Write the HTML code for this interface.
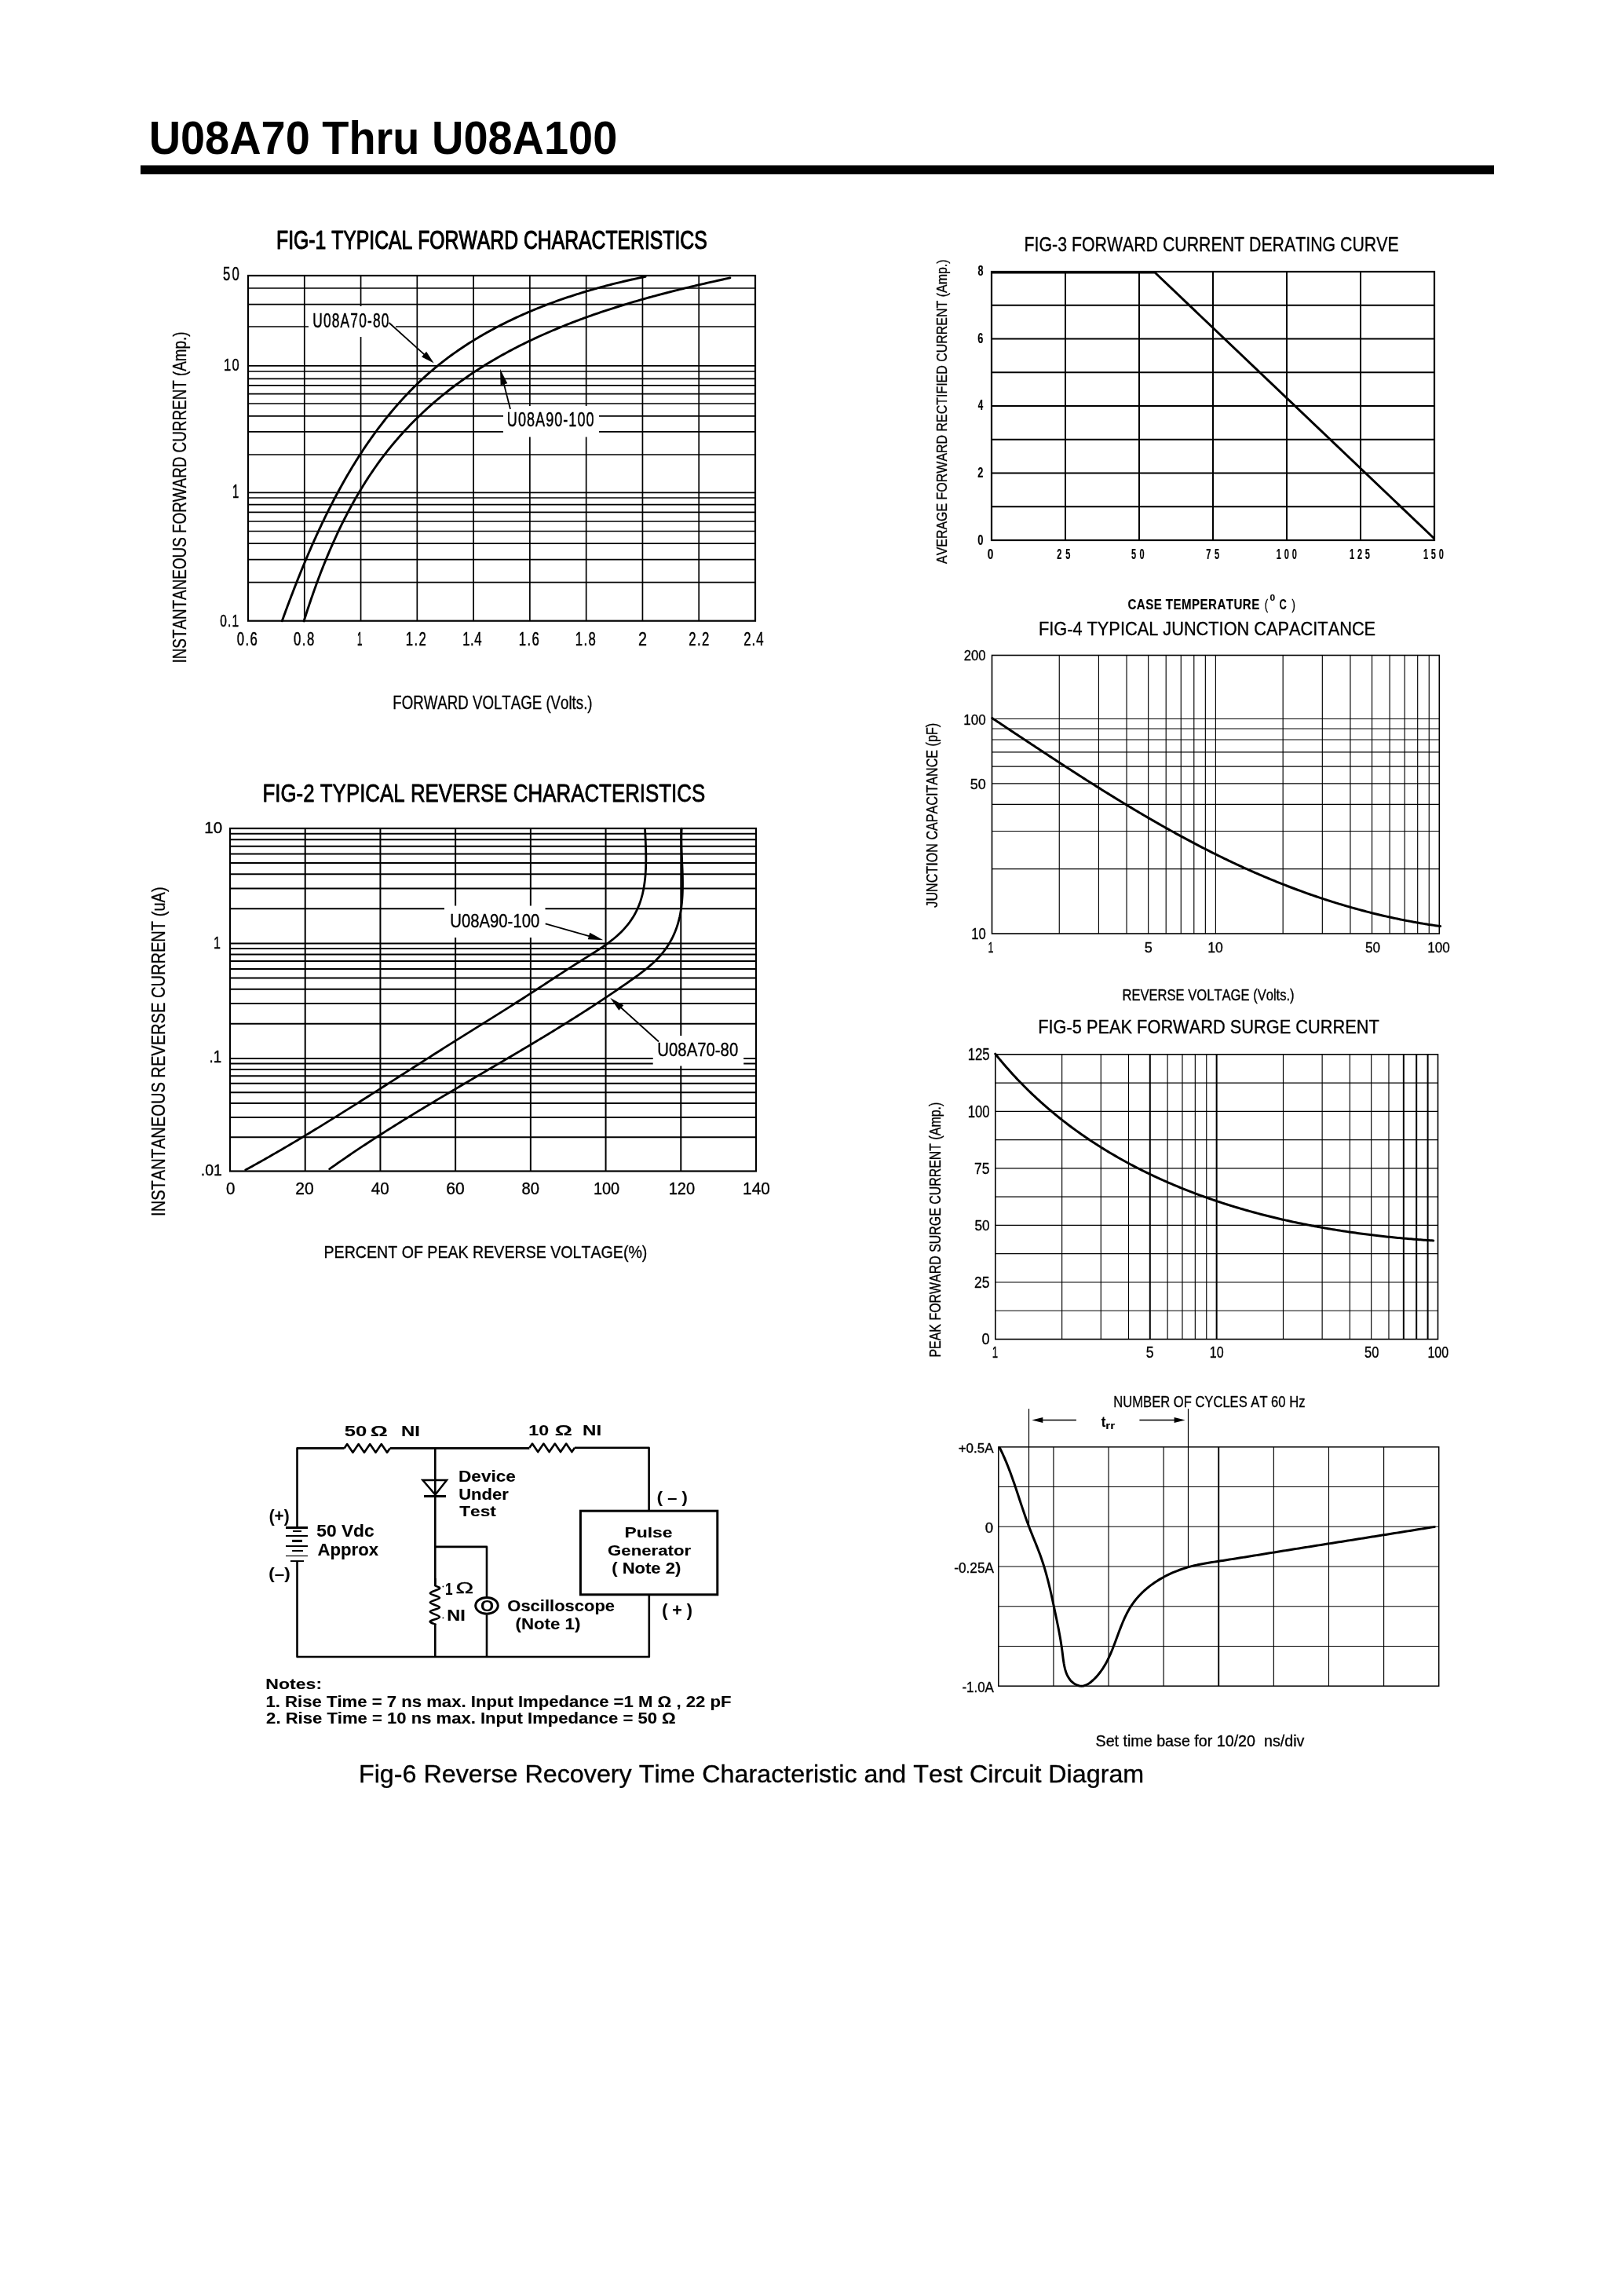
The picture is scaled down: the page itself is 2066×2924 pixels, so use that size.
<!DOCTYPE html>
<html><head><meta charset="utf-8"><title>U08A70 Thru U08A100</title>
<style>
html,body{margin:0;padding:0;background:#fff;}
body{width:2066px;height:2924px;overflow:hidden;}
svg{display:block;filter:grayscale(1);}
svg text{font-family:"Liberation Sans",sans-serif;fill:#000;font-kerning:none;}
</style></head><body>
<svg width="2066" height="2924" viewBox="0 0 2066 2924" stroke="#000" fill="none">
<g stroke="none" fill="#000">
</g>
<text x="189.64" y="196.00" font-size="59.59" font-weight="bold" textLength="596.65" lengthAdjust="spacingAndGlyphs" stroke="none">U08A70 Thru U08A100</text>
<rect x="179.00" y="210.50" width="1724.00" height="11.50" fill="#000" stroke="none"/>
<text x="352.07" y="316.80" font-size="33.29" font-weight="normal" textLength="548.57" lengthAdjust="spacingAndGlyphs" stroke="#000" stroke-width="1.20" stroke-linejoin="round">FIG-1 TYPICAL FORWARD CHARACTERISTICS</text>
<line x1="316.00" y1="367.00" x2="962.00" y2="367.00" stroke-width="1.70"/>
<line x1="316.00" y1="387.60" x2="962.00" y2="387.60" stroke-width="1.70"/>
<line x1="316.00" y1="416.00" x2="962.00" y2="416.00" stroke-width="1.70"/>
<line x1="316.00" y1="465.90" x2="962.00" y2="465.90" stroke-width="1.70"/>
<line x1="316.00" y1="473.00" x2="962.00" y2="473.00" stroke-width="1.70"/>
<line x1="316.00" y1="482.30" x2="962.00" y2="482.30" stroke-width="1.70"/>
<line x1="316.00" y1="490.80" x2="962.00" y2="490.80" stroke-width="1.70"/>
<line x1="316.00" y1="501.60" x2="962.00" y2="501.60" stroke-width="1.70"/>
<line x1="316.00" y1="514.00" x2="962.00" y2="514.00" stroke-width="1.70"/>
<line x1="316.00" y1="529.80" x2="962.00" y2="529.80" stroke-width="1.70"/>
<line x1="316.00" y1="549.80" x2="962.00" y2="549.80" stroke-width="1.70"/>
<line x1="316.00" y1="579.00" x2="962.00" y2="579.00" stroke-width="1.70"/>
<line x1="316.00" y1="627.30" x2="962.00" y2="627.30" stroke-width="1.70"/>
<line x1="316.00" y1="634.00" x2="962.00" y2="634.00" stroke-width="1.70"/>
<line x1="316.00" y1="642.60" x2="962.00" y2="642.60" stroke-width="1.70"/>
<line x1="316.00" y1="652.40" x2="962.00" y2="652.40" stroke-width="1.70"/>
<line x1="316.00" y1="664.00" x2="962.00" y2="664.00" stroke-width="1.70"/>
<line x1="316.00" y1="676.50" x2="962.00" y2="676.50" stroke-width="1.70"/>
<line x1="316.00" y1="692.20" x2="962.00" y2="692.20" stroke-width="1.70"/>
<line x1="316.00" y1="712.60" x2="962.00" y2="712.60" stroke-width="1.70"/>
<line x1="316.00" y1="741.60" x2="962.00" y2="741.60" stroke-width="1.70"/>
<line x1="387.78" y1="351.00" x2="387.78" y2="790.70" stroke-width="1.70"/>
<line x1="459.56" y1="351.00" x2="459.56" y2="790.70" stroke-width="1.70"/>
<line x1="531.33" y1="351.00" x2="531.33" y2="790.70" stroke-width="1.70"/>
<line x1="603.11" y1="351.00" x2="603.11" y2="790.70" stroke-width="1.70"/>
<line x1="674.89" y1="351.00" x2="674.89" y2="790.70" stroke-width="1.70"/>
<line x1="746.67" y1="351.00" x2="746.67" y2="790.70" stroke-width="1.70"/>
<line x1="818.44" y1="351.00" x2="818.44" y2="790.70" stroke-width="1.70"/>
<line x1="890.22" y1="351.00" x2="890.22" y2="790.70" stroke-width="1.70"/>
<rect x="316.00" y="351.00" width="646.00" height="439.70" fill="none" stroke-width="2.2"/>
<rect x="393.00" y="390.00" width="111.00" height="39.00" fill="#fff" stroke="none"/>
<rect x="641.00" y="517.00" width="122.00" height="39.50" fill="#fff" stroke="none"/>
<path d="M359.27 790.81 L360.02 788.74 L360.77 786.66 L361.53 784.59 L362.29 782.51 L363.05 780.43 L363.82 778.36 L364.59 776.27 L365.36 774.19 L366.14 772.11 L366.92 770.02 L367.70 767.94 L368.49 765.85 L369.28 763.76 L370.07 761.67 L370.86 759.58 L371.66 757.49 L372.47 755.40 L373.27 753.31 L374.08 751.22 L374.89 749.12 L375.71 747.03 L376.53 744.93 L377.36 742.84 L378.18 740.74 L379.01 738.65 L379.85 736.55 L380.69 734.45 L381.53 732.36 L382.38 730.26 L383.23 728.17 L384.08 726.07 L384.94 723.98 L385.80 721.88 L386.67 719.78 L387.54 717.69 L388.41 715.60 L389.29 713.50 L390.17 711.41 L391.06 709.32 L391.95 707.23 L392.85 705.14 L393.75 703.05 L394.65 700.96 L395.56 698.87 L396.47 696.78 L397.39 694.70 L398.31 692.61 L399.23 690.53 L400.17 688.45 L401.10 686.37 L402.04 684.29 L402.98 682.21 L403.93 680.14 L404.89 678.06 L405.84 675.99 L406.81 673.92 L407.77 671.85 L408.75 669.78 L409.72 667.72 L410.71 665.66 L411.69 663.60 L412.69 661.54 L413.68 659.48 L414.69 657.43 L415.69 655.38 L416.70 653.33 L417.72 651.28 L418.74 649.24 L419.77 647.20 L420.81 645.16 L421.84 643.13 L422.89 641.09 L423.94 639.06 L424.99 637.04 L426.05 635.02 L427.12 633.00 L428.19 630.98 L429.26 628.96 L430.34 626.95 L431.43 624.95 L432.52 622.94 L433.62 620.95 L434.73 618.95 L435.84 616.96 L436.95 614.97 L438.07 612.98 L439.20 611.00 L440.33 609.03 L441.47 607.05 L442.62 605.08 L443.77 603.12 L444.92 601.16 L446.08 599.20 L447.25 597.25 L448.43 595.30 L449.61 593.36 L450.80 591.42 L451.99 589.49 L453.19 587.56 L454.39 585.64 L455.61 583.72 L456.82 581.80 L458.05 579.89 L459.28 577.99 L460.52 576.09 L461.76 574.19 L463.01 572.31 L464.27 570.42 L465.53 568.54 L466.80 566.67 L468.08 564.80 L469.36 562.94 L470.65 561.09 L471.94 559.23 L473.25 557.39 L474.56 555.55 L475.87 553.72 L477.20 551.89 L478.53 550.07 L479.87 548.26 L481.21 546.45 L482.56 544.64 L483.92 542.85 L485.29 541.06 L486.66 539.27 L488.04 537.50 L489.43 535.73 L490.82 533.96 L492.22 532.21 L493.63 530.46 L495.04 528.71 L496.47 526.98 L497.90 525.25 L499.34 523.53 L500.78 521.81 L502.23 520.10 L503.69 518.40 L505.16 516.71 L506.64 515.02 L508.12 513.34 L509.61 511.67 L511.11 510.01 L512.61 508.35 L514.13 506.70 L515.65 505.06 L517.18 503.43 L518.72 501.80 L520.26 500.19 L521.81 498.58 L523.37 496.98 L524.94 495.39 L526.52 493.80 L528.10 492.23 L529.70 490.66 L531.30 489.10 L532.91 487.55 L534.52 486.01 L536.15 484.47 L537.78 482.95 L539.42 481.43 L541.07 479.92 L542.73 478.43 L544.40 476.94 L546.08 475.46 L547.76 473.99 L549.45 472.52 L551.15 471.07 L552.86 469.63 L554.58 468.19 L556.31 466.77 L558.04 465.35 L559.78 463.95 L561.54 462.55 L563.30 461.17 L565.07 459.79 L566.84 458.42 L568.63 457.06 L570.42 455.71 L572.22 454.38 L574.03 453.04 L575.85 451.72 L577.68 450.41 L579.51 449.11 L581.35 447.82 L583.20 446.53 L585.05 445.26 L586.92 443.99 L588.79 442.73 L590.66 441.48 L592.55 440.24 L594.44 439.01 L596.34 437.79 L598.24 436.58 L600.15 435.38 L602.07 434.18 L604.00 433.00 L605.93 431.82 L607.87 430.65 L609.81 429.49 L611.76 428.34 L613.72 427.20 L615.68 426.06 L617.65 424.94 L619.62 423.82 L621.61 422.71 L623.59 421.61 L625.58 420.52 L627.58 419.44 L629.59 418.36 L631.59 417.30 L633.61 416.24 L635.63 415.19 L637.65 414.15 L639.68 413.12 L641.72 412.09 L643.76 411.08 L645.80 410.07 L647.85 409.07 L649.90 408.08 L651.96 407.09 L654.03 406.12 L656.09 405.15 L658.17 404.19 L660.24 403.24 L662.32 402.29 L664.41 401.36 L666.50 400.43 L668.59 399.51 L670.68 398.60 L672.78 397.69 L674.89 396.79 L677.00 395.90 L679.11 395.02 L681.22 394.15 L683.34 393.28 L685.46 392.42 L687.58 391.57 L689.71 390.73 L691.84 389.89 L693.97 389.07 L696.11 388.24 L698.25 387.43 L700.39 386.62 L702.54 385.83 L704.68 385.03 L706.83 384.25 L708.98 383.47 L711.14 382.70 L713.29 381.94 L715.45 381.18 L717.61 380.44 L719.77 379.70 L721.94 378.96 L724.10 378.23 L726.27 377.51 L728.44 376.80 L730.61 376.10 L732.78 375.40 L734.96 374.70 L737.13 374.02 L739.31 373.34 L741.48 372.67 L743.66 372.00 L745.84 371.35 L748.02 370.70 L750.20 370.05 L752.38 369.41 L754.56 368.78 L756.75 368.16 L758.93 367.54 L761.11 366.93 L763.30 366.32 L765.48 365.72 L767.66 365.13 L769.85 364.55 L772.03 363.97 L774.21 363.39 L776.40 362.83 L778.58 362.27 L780.76 361.71 L782.95 361.17 L785.13 360.62 L787.31 360.09 L789.49 359.56 L791.67 359.04 L793.85 358.52 L796.03 358.01 L798.20 357.51 L800.38 357.01 L802.55 356.51 L804.72 356.03 L806.90 355.55 L809.07 355.07 L811.24 354.60 L813.40 354.14 L815.57 353.68 L817.73 353.23 L819.89 352.78 L822.05 352.34" fill="none" stroke-width="2.90" stroke-linejoin="round" stroke-linecap="round"/>
<path d="M387.08 790.97 L387.82 788.63 L388.57 786.29 L389.32 783.94 L390.08 781.60 L390.84 779.25 L391.61 776.91 L392.38 774.57 L393.16 772.22 L393.94 769.88 L394.73 767.53 L395.53 765.19 L396.33 762.84 L397.14 760.50 L397.96 758.15 L398.78 755.81 L399.61 753.47 L400.44 751.13 L401.28 748.79 L402.13 746.45 L402.98 744.11 L403.84 741.77 L404.70 739.43 L405.57 737.10 L406.45 734.77 L407.34 732.43 L408.23 730.10 L409.13 727.78 L410.04 725.45 L410.95 723.12 L411.87 720.80 L412.80 718.48 L413.73 716.16 L414.68 713.85 L415.62 711.54 L416.58 709.23 L417.54 706.92 L418.52 704.61 L419.49 702.31 L420.48 700.01 L421.47 697.72 L422.48 695.43 L423.49 693.14 L424.50 690.85 L425.53 688.57 L426.56 686.29 L427.60 684.02 L428.65 681.75 L429.71 679.48 L430.77 677.22 L431.85 674.96 L432.93 672.70 L434.02 670.45 L435.12 668.21 L436.22 665.97 L437.34 663.73 L438.46 661.50 L439.59 659.27 L440.74 657.05 L441.89 654.83 L443.04 652.62 L444.21 650.42 L445.39 648.22 L446.57 646.02 L447.77 643.83 L448.97 641.65 L450.19 639.47 L451.41 637.30 L452.64 635.13 L453.88 632.97 L455.13 630.82 L456.39 628.67 L457.66 626.53 L458.94 624.39 L460.23 622.27 L461.52 620.14 L462.83 618.03 L464.15 615.92 L465.48 613.82 L466.81 611.73 L468.16 609.64 L469.52 607.56 L470.89 605.49 L472.26 603.43 L473.65 601.37 L475.05 599.32 L476.46 597.28 L477.88 595.25 L479.31 593.23 L480.75 591.21 L482.20 589.20 L483.66 587.20 L485.13 585.21 L486.61 583.23 L488.10 581.25 L489.61 579.29 L491.12 577.33 L492.65 575.38 L494.19 573.45 L495.73 571.52 L497.29 569.60 L498.86 567.68 L500.44 565.78 L502.03 563.89 L503.63 562.00 L505.24 560.13 L506.86 558.26 L508.49 556.40 L510.13 554.55 L511.78 552.71 L513.44 550.88 L515.11 549.06 L516.79 547.25 L518.48 545.45 L520.18 543.65 L521.89 541.87 L523.61 540.09 L525.34 538.33 L527.07 536.57 L528.82 534.83 L530.58 533.09 L532.34 531.36 L534.12 529.64 L535.90 527.93 L537.69 526.23 L539.49 524.54 L541.30 522.86 L543.12 521.19 L544.95 519.52 L546.79 517.87 L548.63 516.23 L550.48 514.59 L552.35 512.97 L554.22 511.35 L556.10 509.75 L557.98 508.15 L559.88 506.57 L561.78 504.99 L563.69 503.43 L565.61 501.87 L567.54 500.32 L569.47 498.79 L571.41 497.26 L573.36 495.74 L575.32 494.23 L577.29 492.73 L579.26 491.25 L581.24 489.77 L583.23 488.30 L585.22 486.84 L587.22 485.39 L589.23 483.95 L591.25 482.53 L593.27 481.11 L595.30 479.70 L597.34 478.30 L599.38 476.91 L601.43 475.53 L603.49 474.16 L605.55 472.80 L607.62 471.45 L609.70 470.11 L611.78 468.78 L613.87 467.46 L615.97 466.15 L618.07 464.84 L620.18 463.55 L622.29 462.26 L624.41 460.99 L626.54 459.72 L628.67 458.46 L630.81 457.22 L632.95 455.98 L635.10 454.75 L637.26 453.53 L639.42 452.31 L641.58 451.11 L643.75 449.91 L645.93 448.73 L648.11 447.55 L650.30 446.38 L652.49 445.22 L654.69 444.07 L656.90 442.92 L659.10 441.79 L661.32 440.66 L663.54 439.54 L665.76 438.43 L667.99 437.33 L670.22 436.23 L672.45 435.15 L674.70 434.07 L676.94 433.00 L679.19 431.94 L681.45 430.88 L683.71 429.84 L685.97 428.80 L688.24 427.77 L690.51 426.74 L692.79 425.73 L695.07 424.72 L697.35 423.72 L699.64 422.72 L701.93 421.74 L704.22 420.76 L706.52 419.79 L708.82 418.82 L711.13 417.87 L713.44 416.92 L715.75 415.97 L718.07 415.04 L720.39 414.11 L722.71 413.19 L725.04 412.27 L727.37 411.37 L729.70 410.47 L732.03 409.57 L734.37 408.68 L736.71 407.80 L739.05 406.93 L741.40 406.06 L743.75 405.20 L746.10 404.35 L748.46 403.50 L750.81 402.65 L753.17 401.82 L755.53 400.99 L757.90 400.17 L760.26 399.35 L762.63 398.54 L765.00 397.73 L767.37 396.93 L769.75 396.14 L772.12 395.35 L774.50 394.57 L776.88 393.80 L779.26 393.03 L781.64 392.26 L784.03 391.50 L786.41 390.75 L788.80 390.00 L791.19 389.26 L793.58 388.53 L795.97 387.80 L798.36 387.07 L800.75 386.35 L803.15 385.63 L805.54 384.92 L807.94 384.22 L810.34 383.52 L812.74 382.83 L815.14 382.14 L817.54 381.45 L819.94 380.77 L822.34 380.10 L824.74 379.43 L827.14 378.76 L829.54 378.10 L831.94 377.44 L834.35 376.79 L836.75 376.14 L839.15 375.50 L841.55 374.86 L843.96 374.23 L846.36 373.60 L848.76 372.98 L851.16 372.35 L853.57 371.74 L855.97 371.12 L858.37 370.52 L860.77 369.91 L863.17 369.31 L865.57 368.71 L867.97 368.12 L870.37 367.53 L872.77 366.95 L875.16 366.37 L877.56 365.79 L879.95 365.21 L882.35 364.64 L884.74 364.08 L887.13 363.51 L889.52 362.95 L891.91 362.39 L894.30 361.84 L896.68 361.29 L899.07 360.74 L901.45 360.20 L903.83 359.66 L906.21 359.12 L908.59 358.59 L910.97 358.05 L913.34 357.53 L915.71 357.00 L918.08 356.48 L920.45 355.96 L922.82 355.44 L925.18 354.92 L927.54 354.41 L929.90 353.90" fill="none" stroke-width="2.90" stroke-linejoin="round" stroke-linecap="round"/>
<text transform="translate(399.60 416.90) scale(0.6800 1)" x="-1.97" y="0" font-size="25.58" font-weight="normal" letter-spacing="1.694" xml:space="preserve" style="stroke:#000;stroke-width:0.51px;vector-effect:none">U08A70-80</text>
<line x1="495.50" y1="411.00" x2="542.59" y2="453.40" stroke-width="1.80"/><path d="M552.70 462.50 L537.06 454.47 L543.08 447.78 Z" fill="#000" stroke="none"/>
<text transform="translate(647.20 543.30) scale(0.6800 1)" x="-2.05" y="0" font-size="26.60" font-weight="normal" letter-spacing="1.509" xml:space="preserve" style="stroke:#000;stroke-width:0.51px;vector-effect:none">U08A90-100</text>
<line x1="650.00" y1="521.00" x2="640.95" y2="485.50" stroke-width="1.80"/><path d="M637.00 470.00 L646.30 488.27 L637.58 490.49 Z" fill="#000" stroke="none"/>
<text transform="translate(284.70 357.00) scale(0.7200 1)" x="-0.93" y="0" font-size="23.26" font-weight="normal" letter-spacing="2.916" xml:space="preserve" style="stroke:#000;stroke-width:0.49px;vector-effect:none">50</text>
<text transform="translate(286.20 471.80) scale(0.7200 1)" x="-1.75" y="0" font-size="22.97" font-weight="normal" letter-spacing="1.963" xml:space="preserve" style="stroke:#000;stroke-width:0.49px;vector-effect:none">10</text>
<text transform="translate(297.00 634.20) scale(0.6304 1)" x="-1.79" y="0" font-size="23.55" font-weight="normal" letter-spacing="0.000" xml:space="preserve" style="stroke:#000;stroke-width:0.56px;vector-effect:none">1</text>
<text transform="translate(280.80 797.80) scale(0.7200 1)" x="-0.84" y="0" font-size="21.51" font-weight="normal" letter-spacing="1.687" xml:space="preserve" style="stroke:#000;stroke-width:0.49px;vector-effect:none">0.1</text>
<text transform="translate(302.40 821.50) scale(0.7200 1)" x="-0.91" y="0" font-size="23.26" font-weight="normal" letter-spacing="2.023" xml:space="preserve" style="stroke:#000;stroke-width:0.49px;vector-effect:none">0.6</text>
<text transform="translate(374.70 821.50) scale(0.7200 1)" x="-0.91" y="0" font-size="23.26" font-weight="normal" letter-spacing="2.017" xml:space="preserve" style="stroke:#000;stroke-width:0.49px;vector-effect:none">0.8</text>
<text transform="translate(456.00 821.50) scale(0.4987 1)" x="-1.77" y="0" font-size="23.26" font-weight="normal" letter-spacing="0.000" xml:space="preserve" style="stroke:#000;stroke-width:0.70px;vector-effect:none">1</text>
<text transform="translate(518.00 821.50) scale(0.7200 1)" x="-1.77" y="0" font-size="23.26" font-weight="normal" letter-spacing="1.973" xml:space="preserve" style="stroke:#000;stroke-width:0.49px;vector-effect:none">1.2</text>
<text transform="translate(590.50 821.50) scale(0.7200 1)" x="-1.77" y="0" font-size="23.26" font-weight="normal" letter-spacing="0.687" xml:space="preserve" style="stroke:#000;stroke-width:0.49px;vector-effect:none">1.4</text>
<text transform="translate(662.00 821.50) scale(0.7200 1)" x="-1.77" y="0" font-size="23.26" font-weight="normal" letter-spacing="1.899" xml:space="preserve" style="stroke:#000;stroke-width:0.49px;vector-effect:none">1.6</text>
<text transform="translate(734.00 821.50) scale(0.7200 1)" x="-1.77" y="0" font-size="23.26" font-weight="normal" letter-spacing="1.893" xml:space="preserve" style="stroke:#000;stroke-width:0.49px;vector-effect:none">1.8</text>
<text transform="translate(814.00 821.50) scale(0.8495 1)" x="-1.17" y="0" font-size="23.26" font-weight="normal" letter-spacing="0.000" xml:space="preserve" style="stroke:#000;stroke-width:0.41px;vector-effect:none">2</text>
<text transform="translate(878.00 821.50) scale(0.7200 1)" x="-1.17" y="0" font-size="23.26" font-weight="normal" letter-spacing="2.088" xml:space="preserve" style="stroke:#000;stroke-width:0.49px;vector-effect:none">2.2</text>
<text transform="translate(948.00 821.50) scale(0.7200 1)" x="-1.17" y="0" font-size="23.26" font-weight="normal" letter-spacing="1.427" xml:space="preserve" style="stroke:#000;stroke-width:0.49px;vector-effect:none">2.4</text>
<text transform="translate(237.00 842.80) rotate(-90)" x="-1.74" y="0" font-size="24.71" font-weight="normal" textLength="422.11" lengthAdjust="spacingAndGlyphs" stroke="#000" stroke-width="0.35" stroke-linejoin="round">INSTANTANEOUS FORWARD CURRENT (Amp.)</text>
<text x="500.27" y="902.90" font-size="24.13" font-weight="normal" textLength="254.29" lengthAdjust="spacingAndGlyphs" stroke="#000" stroke-width="0.35" stroke-linejoin="round">FORWARD VOLTAGE (Volts.)</text>
<text x="334.48" y="1021.40" font-size="32.27" font-weight="normal" textLength="563.81" lengthAdjust="spacingAndGlyphs" stroke="#000" stroke-width="0.85" stroke-linejoin="round">FIG-2 TYPICAL REVERSE CHARACTERISTICS</text>
<line x1="293.00" y1="1157.33" x2="963.00" y2="1157.33" stroke-width="2.00"/>
<line x1="293.00" y1="1131.55" x2="963.00" y2="1131.55" stroke-width="2.00"/>
<line x1="293.00" y1="1113.26" x2="963.00" y2="1113.26" stroke-width="2.00"/>
<line x1="293.00" y1="1099.07" x2="963.00" y2="1099.07" stroke-width="2.00"/>
<line x1="293.00" y1="1087.48" x2="963.00" y2="1087.48" stroke-width="2.00"/>
<line x1="293.00" y1="1077.68" x2="963.00" y2="1077.68" stroke-width="2.00"/>
<line x1="293.00" y1="1069.19" x2="963.00" y2="1069.19" stroke-width="2.00"/>
<line x1="293.00" y1="1061.70" x2="963.00" y2="1061.70" stroke-width="2.00"/>
<line x1="293.00" y1="1201.40" x2="963.00" y2="1201.40" stroke-width="2.00"/>
<line x1="293.00" y1="1303.87" x2="963.00" y2="1303.87" stroke-width="2.00"/>
<line x1="293.00" y1="1278.05" x2="963.00" y2="1278.05" stroke-width="2.00"/>
<line x1="293.00" y1="1259.74" x2="963.00" y2="1259.74" stroke-width="2.00"/>
<line x1="293.00" y1="1245.53" x2="963.00" y2="1245.53" stroke-width="2.00"/>
<line x1="293.00" y1="1233.92" x2="963.00" y2="1233.92" stroke-width="2.00"/>
<line x1="293.00" y1="1224.11" x2="963.00" y2="1224.11" stroke-width="2.00"/>
<line x1="293.00" y1="1215.61" x2="963.00" y2="1215.61" stroke-width="2.00"/>
<line x1="293.00" y1="1208.11" x2="963.00" y2="1208.11" stroke-width="2.00"/>
<line x1="293.00" y1="1348.00" x2="963.00" y2="1348.00" stroke-width="2.00"/>
<line x1="293.00" y1="1448.30" x2="963.00" y2="1448.30" stroke-width="2.00"/>
<line x1="293.00" y1="1423.03" x2="963.00" y2="1423.03" stroke-width="2.00"/>
<line x1="293.00" y1="1405.10" x2="963.00" y2="1405.10" stroke-width="2.00"/>
<line x1="293.00" y1="1391.20" x2="963.00" y2="1391.20" stroke-width="2.00"/>
<line x1="293.00" y1="1379.84" x2="963.00" y2="1379.84" stroke-width="2.00"/>
<line x1="293.00" y1="1370.23" x2="963.00" y2="1370.23" stroke-width="2.00"/>
<line x1="293.00" y1="1361.91" x2="963.00" y2="1361.91" stroke-width="2.00"/>
<line x1="293.00" y1="1354.57" x2="963.00" y2="1354.57" stroke-width="2.00"/>
<line x1="388.71" y1="1055.00" x2="388.71" y2="1491.50" stroke-width="2.00"/>
<line x1="484.43" y1="1055.00" x2="484.43" y2="1491.50" stroke-width="2.00"/>
<line x1="580.14" y1="1055.00" x2="580.14" y2="1491.50" stroke-width="2.00"/>
<line x1="675.86" y1="1055.00" x2="675.86" y2="1491.50" stroke-width="2.00"/>
<line x1="771.57" y1="1055.00" x2="771.57" y2="1491.50" stroke-width="2.00"/>
<line x1="867.29" y1="1055.00" x2="867.29" y2="1491.50" stroke-width="2.00"/>
<rect x="293.00" y="1055.00" width="670.00" height="436.50" fill="none" stroke-width="2.2"/>
<rect x="566.00" y="1153.50" width="128.50" height="40.50" fill="#fff" stroke="none"/>
<rect x="831.70" y="1319.00" width="115.50" height="38.50" fill="#fff" stroke="none"/>
<path d="M312.70 1489.94 L314.77 1488.81 L316.84 1487.68 L318.91 1486.54 L320.97 1485.40 L323.04 1484.26 L325.10 1483.11 L327.16 1481.97 L329.22 1480.81 L331.28 1479.66 L333.34 1478.50 L335.39 1477.35 L337.44 1476.18 L339.50 1475.02 L341.55 1473.85 L343.60 1472.68 L345.64 1471.51 L347.69 1470.34 L349.74 1469.16 L351.78 1467.98 L353.82 1466.80 L355.87 1465.61 L357.91 1464.43 L359.95 1463.24 L361.98 1462.05 L364.02 1460.85 L366.06 1459.66 L368.09 1458.46 L370.12 1457.26 L372.16 1456.06 L374.19 1454.86 L376.22 1453.65 L378.25 1452.44 L380.28 1451.23 L382.30 1450.02 L384.33 1448.81 L386.35 1447.59 L388.38 1446.37 L390.40 1445.15 L392.42 1443.93 L394.44 1442.71 L396.46 1441.48 L398.48 1440.26 L400.50 1439.03 L402.52 1437.80 L404.53 1436.57 L406.55 1435.33 L408.56 1434.10 L410.57 1432.86 L412.59 1431.62 L414.60 1430.38 L416.61 1429.14 L418.62 1427.90 L420.63 1426.66 L422.64 1425.41 L424.65 1424.17 L426.65 1422.92 L428.66 1421.67 L430.67 1420.42 L432.67 1419.17 L434.68 1417.91 L436.68 1416.66 L438.68 1415.41 L440.69 1414.15 L442.69 1412.89 L444.69 1411.64 L446.69 1410.38 L448.69 1409.12 L450.69 1407.86 L452.69 1406.59 L454.69 1405.33 L456.69 1404.07 L458.69 1402.80 L460.68 1401.54 L462.68 1400.27 L464.68 1399.01 L466.67 1397.74 L468.67 1396.47 L470.67 1395.20 L472.66 1393.93 L474.65 1392.66 L476.65 1391.39 L478.64 1390.12 L480.64 1388.85 L482.63 1387.58 L484.62 1386.31 L486.62 1385.04 L488.61 1383.76 L490.60 1382.49 L492.59 1381.22 L494.59 1379.94 L496.58 1378.67 L498.57 1377.39 L500.56 1376.12 L502.55 1374.85 L504.54 1373.57 L506.53 1372.30 L508.52 1371.02 L510.52 1369.75 L512.51 1368.47 L514.50 1367.20 L516.49 1365.92 L518.48 1364.65 L520.47 1363.37 L522.46 1362.10 L524.45 1360.83 L526.44 1359.55 L528.43 1358.28 L530.42 1357.01 L532.41 1355.73 L534.41 1354.46 L536.40 1353.19 L538.39 1351.92 L540.38 1350.65 L542.37 1349.37 L544.36 1348.10 L546.36 1346.83 L548.35 1345.56 L550.34 1344.30 L552.33 1343.03 L554.33 1341.76 L556.32 1340.49 L558.31 1339.23 L560.31 1337.96 L562.30 1336.70 L564.30 1335.43 L566.29 1334.17 L568.29 1332.91 L570.28 1331.65 L572.28 1330.39 L574.27 1329.13 L576.27 1327.87 L578.27 1326.61 L580.27 1325.36 L582.26 1324.10 L584.26 1322.85 L586.26 1321.59 L588.26 1320.34 L590.26 1319.09 L592.26 1317.84 L594.26 1316.59 L596.26 1315.34 L598.26 1314.09 L600.26 1312.84 L602.26 1311.59 L604.26 1310.34 L606.26 1309.10 L608.26 1307.85 L610.26 1306.60 L612.26 1305.35 L614.26 1304.10 L616.26 1302.86 L618.26 1301.61 L620.26 1300.36 L622.25 1299.11 L624.25 1297.87 L626.25 1296.62 L628.24 1295.37 L630.24 1294.12 L632.24 1292.87 L634.23 1291.62 L636.23 1290.37 L638.22 1289.11 L640.21 1287.86 L642.20 1286.61 L644.19 1285.35 L646.18 1284.10 L648.17 1282.84 L650.16 1281.58 L652.15 1280.33 L654.13 1279.07 L656.12 1277.80 L658.10 1276.54 L660.09 1275.28 L662.07 1274.01 L664.05 1272.75 L666.03 1271.48 L668.00 1270.21 L669.98 1268.94 L671.96 1267.66 L673.93 1266.39 L675.90 1265.11 L677.87 1263.83 L679.84 1262.55 L681.81 1261.27 L683.78 1259.99 L685.74 1258.70 L687.71 1257.41 L689.67 1256.13 L691.64 1254.84 L693.61 1253.55 L695.57 1252.26 L697.54 1250.97 L699.51 1249.68 L701.48 1248.39 L703.45 1247.09 L705.42 1245.80 L707.40 1244.51 L709.37 1243.22 L711.35 1241.93 L713.33 1240.64 L715.31 1239.35 L717.30 1238.06 L719.29 1236.77 L721.28 1235.48 L723.27 1234.19 L725.27 1232.91 L727.27 1231.62 L729.28 1230.34 L731.29 1229.06 L733.31 1227.78 L735.33 1226.50 L737.35 1225.23 L739.38 1223.95 L741.42 1222.68 L743.46 1221.41 L745.50 1220.14 L747.55 1218.87 L749.59 1217.60 L751.63 1216.32 L753.68 1215.04 L755.71 1213.76 L757.74 1212.47 L759.77 1211.17 L761.78 1209.86 L763.78 1208.54 L765.77 1207.21 L767.75 1205.87 L769.71 1204.51 L771.65 1203.14 L773.57 1201.75 L775.48 1200.35 L777.36 1198.92 L779.22 1197.47 L781.05 1196.01 L782.86 1194.52 L784.64 1193.01 L786.38 1191.47 L788.10 1189.90 L789.79 1188.31 L791.43 1186.69 L793.05 1185.04 L794.63 1183.36 L796.16 1181.66 L797.66 1179.92 L799.13 1178.16 L800.54 1176.36 L801.92 1174.54 L803.25 1172.69 L804.54 1170.80 L805.79 1168.89 L806.98 1166.94 L808.13 1164.96 L809.23 1162.96 L810.29 1160.92 L811.29 1158.85 L812.25 1156.76 L813.16 1154.63 L814.02 1152.49 L814.84 1150.31 L815.61 1148.11 L816.33 1145.89 L817.01 1143.64 L817.64 1141.38 L818.23 1139.09 L818.77 1136.78 L819.28 1134.45 L819.74 1132.11 L820.16 1129.75 L820.55 1127.37 L820.90 1124.99 L821.22 1122.59 L821.50 1120.18 L821.76 1117.76 L821.98 1115.34 L822.17 1112.90 L822.33 1110.47 L822.47 1108.03 L822.59 1105.58 L822.67 1103.14 L822.74 1100.69 L822.79 1098.25 L822.81 1095.81 L822.82 1093.37 L822.81 1090.94 L822.79 1088.52 L822.75 1086.10 L822.70 1083.69 L822.63 1081.30 L822.56 1078.91 L822.48 1076.54 L822.39 1074.18 L822.29 1071.84 L822.19 1069.52 L822.09 1067.21 L821.98 1064.93 L821.88 1062.66 L821.77 1060.42 L821.67 1058.20 L821.57 1056.01" fill="none" stroke-width="2.80" stroke-linejoin="round" stroke-linecap="round"/>
<path d="M419.67 1488.78 L421.51 1487.47 L423.35 1486.16 L425.20 1484.86 L427.04 1483.55 L428.89 1482.26 L430.74 1480.96 L432.59 1479.67 L434.44 1478.38 L436.30 1477.10 L438.16 1475.82 L440.01 1474.54 L441.87 1473.27 L443.73 1472.00 L445.59 1470.73 L447.46 1469.46 L449.32 1468.20 L451.19 1466.94 L453.06 1465.68 L454.93 1464.43 L456.80 1463.18 L458.67 1461.93 L460.55 1460.69 L462.42 1459.45 L464.30 1458.21 L466.18 1456.97 L468.06 1455.74 L469.94 1454.51 L471.82 1453.28 L473.70 1452.06 L475.59 1450.83 L477.47 1449.61 L479.36 1448.39 L481.25 1447.18 L483.14 1445.97 L485.03 1444.76 L486.92 1443.55 L488.81 1442.34 L490.71 1441.14 L492.60 1439.94 L494.50 1438.74 L496.40 1437.54 L498.29 1436.35 L500.19 1435.15 L502.09 1433.96 L504.00 1432.77 L505.90 1431.59 L507.80 1430.40 L509.71 1429.22 L511.61 1428.04 L513.52 1426.86 L515.43 1425.68 L517.33 1424.51 L519.24 1423.33 L521.15 1422.16 L523.06 1420.99 L524.97 1419.82 L526.89 1418.65 L528.80 1417.49 L530.71 1416.33 L532.63 1415.16 L534.54 1414.00 L536.46 1412.84 L538.38 1411.68 L540.30 1410.53 L542.21 1409.37 L544.13 1408.22 L546.05 1407.07 L547.97 1405.91 L549.89 1404.76 L551.81 1403.61 L553.74 1402.47 L555.66 1401.32 L557.58 1400.17 L559.51 1399.03 L561.43 1397.88 L563.35 1396.74 L565.28 1395.60 L567.20 1394.46 L569.13 1393.32 L571.06 1392.18 L572.98 1391.04 L574.91 1389.90 L576.84 1388.76 L578.77 1387.62 L580.69 1386.49 L582.62 1385.35 L584.55 1384.22 L586.48 1383.08 L588.41 1381.95 L590.34 1380.81 L592.27 1379.68 L594.20 1378.55 L596.13 1377.42 L598.06 1376.28 L599.99 1375.15 L601.92 1374.02 L603.85 1372.89 L605.79 1371.76 L607.72 1370.63 L609.65 1369.49 L611.58 1368.36 L613.51 1367.23 L615.44 1366.10 L617.37 1364.97 L619.30 1363.84 L621.24 1362.71 L623.17 1361.57 L625.10 1360.44 L627.03 1359.31 L628.96 1358.18 L630.89 1357.05 L632.82 1355.91 L634.75 1354.78 L636.69 1353.65 L638.62 1352.51 L640.55 1351.38 L642.48 1350.24 L644.41 1349.11 L646.34 1347.97 L648.27 1346.83 L650.19 1345.70 L652.12 1344.56 L654.05 1343.42 L655.98 1342.28 L657.91 1341.14 L659.84 1340.00 L661.76 1338.85 L663.69 1337.71 L665.62 1336.57 L667.54 1335.42 L669.47 1334.28 L671.39 1333.13 L673.32 1331.98 L675.24 1330.83 L677.17 1329.68 L679.09 1328.53 L681.01 1327.38 L682.93 1326.22 L684.86 1325.07 L686.78 1323.91 L688.70 1322.75 L690.62 1321.59 L692.54 1320.43 L694.45 1319.27 L696.37 1318.11 L698.29 1316.94 L700.20 1315.77 L702.12 1314.61 L704.03 1313.44 L705.95 1312.26 L707.86 1311.09 L709.77 1309.91 L711.69 1308.74 L713.60 1307.56 L715.51 1306.38 L717.42 1305.19 L719.32 1304.01 L721.23 1302.82 L723.14 1301.64 L725.04 1300.44 L726.95 1299.25 L728.85 1298.06 L730.76 1296.86 L732.66 1295.66 L734.56 1294.46 L736.46 1293.26 L738.36 1292.05 L740.25 1290.84 L742.15 1289.63 L744.05 1288.42 L745.94 1287.20 L747.83 1285.99 L749.72 1284.77 L751.62 1283.54 L753.51 1282.32 L755.39 1281.09 L757.28 1279.86 L759.17 1278.63 L761.05 1277.39 L762.94 1276.15 L764.82 1274.91 L766.70 1273.66 L768.58 1272.42 L770.46 1271.17 L772.33 1269.91 L774.21 1268.66 L776.08 1267.40 L777.96 1266.14 L779.83 1264.87 L781.70 1263.60 L783.57 1262.33 L785.43 1261.06 L787.30 1259.78 L789.16 1258.50 L791.02 1257.22 L792.89 1255.93 L794.74 1254.64 L796.60 1253.34 L798.46 1252.05 L800.31 1250.75 L802.17 1249.44 L804.02 1248.13 L805.87 1246.82 L807.71 1245.50 L809.55 1244.18 L811.38 1242.85 L813.21 1241.51 L815.02 1240.16 L816.82 1238.80 L818.61 1237.43 L820.39 1236.05 L822.15 1234.65 L823.89 1233.24 L825.61 1231.82 L827.32 1230.38 L829.00 1228.92 L830.66 1227.44 L832.29 1225.94 L833.90 1224.42 L835.48 1222.88 L837.04 1221.32 L838.56 1219.74 L840.05 1218.13 L841.51 1216.49 L842.93 1214.83 L844.32 1213.14 L845.67 1211.43 L846.98 1209.68 L848.26 1207.91 L849.49 1206.11 L850.69 1204.29 L851.85 1202.44 L852.98 1200.57 L854.06 1198.67 L855.11 1196.75 L856.12 1194.80 L857.09 1192.84 L858.02 1190.85 L858.91 1188.84 L859.77 1186.81 L860.58 1184.76 L861.36 1182.69 L862.10 1180.60 L862.80 1178.50 L863.46 1176.38 L864.07 1174.24 L864.65 1172.08 L865.19 1169.91 L865.70 1167.73 L866.16 1165.53 L866.59 1163.32 L866.98 1161.09 L867.34 1158.86 L867.67 1156.61 L867.97 1154.35 L868.23 1152.08 L868.47 1149.81 L868.68 1147.52 L868.86 1145.23 L869.02 1142.93 L869.15 1140.62 L869.26 1138.31 L869.35 1135.99 L869.42 1133.67 L869.47 1131.34 L869.50 1129.02 L869.51 1126.69 L869.51 1124.36 L869.49 1122.02 L869.46 1119.69 L869.42 1117.36 L869.37 1115.03 L869.31 1112.70 L869.24 1110.38 L869.16 1108.06 L869.08 1105.74 L868.99 1103.43 L868.90 1101.12 L868.80 1098.82 L868.71 1096.53 L868.61 1094.24 L868.51 1091.97 L868.42 1089.70 L868.33 1087.44 L868.25 1085.19 L868.17 1082.96 L868.10 1080.73 L868.04 1078.52 L867.99 1076.32 L867.94 1074.14 L867.91 1071.97 L867.90 1069.81 L867.89 1067.67 L867.91 1065.55 L867.94 1063.45 L867.99 1061.36 L868.05 1059.30 L868.14 1057.25 L868.25 1055.22" fill="none" stroke-width="2.80" stroke-linejoin="round" stroke-linecap="round"/>
<text x="573.23" y="1180.60" font-size="24.13" font-weight="normal" textLength="114.06" lengthAdjust="spacingAndGlyphs" stroke="#000" stroke-width="0.35" stroke-linejoin="round">U08A90-100</text>
<line x1="694.70" y1="1176.40" x2="753.67" y2="1193.07" stroke-width="1.80"/><path d="M768.30 1197.20 L748.79 1196.36 L751.24 1187.70 Z" fill="#000" stroke="none"/>
<text x="837.33" y="1344.70" font-size="24.27" font-weight="normal" textLength="102.86" lengthAdjust="spacingAndGlyphs" stroke="#000" stroke-width="0.35" stroke-linejoin="round">U08A70-80</text>
<line x1="839.00" y1="1326.50" x2="788.49" y2="1280.98" stroke-width="1.80"/><path d="M777.20 1270.80 L794.33 1280.18 L788.30 1286.86 Z" fill="#000" stroke="none"/>
<text x="260.33" y="1060.90" font-size="20.93" font-weight="normal" textLength="22.87" lengthAdjust="spacingAndGlyphs" stroke="#000" stroke-width="0.35" stroke-linejoin="round">10</text>
<text x="272.08" y="1207.90" font-size="21.37" font-weight="normal" textLength="8.90" lengthAdjust="spacingAndGlyphs" stroke="#000" stroke-width="0.35" stroke-linejoin="round">1</text>
<text x="266.59" y="1353.40" font-size="21.95" font-weight="normal" textLength="15.63" lengthAdjust="spacingAndGlyphs" stroke="#000" stroke-width="0.35" stroke-linejoin="round">.1</text>
<text x="255.82" y="1496.90" font-size="20.49" font-weight="normal" textLength="27.14" lengthAdjust="spacingAndGlyphs" stroke="#000" stroke-width="0.35" stroke-linejoin="round">.01</text>
<text x="288.00" y="1520.70" font-size="22.09" font-weight="normal" textLength="11.40" lengthAdjust="spacingAndGlyphs" stroke="#000" stroke-width="0.35" stroke-linejoin="round">0</text>
<text x="376.24" y="1520.70" font-size="22.09" font-weight="normal" textLength="23.49" lengthAdjust="spacingAndGlyphs" stroke="#000" stroke-width="0.35" stroke-linejoin="round">20</text>
<text x="472.83" y="1520.70" font-size="22.09" font-weight="normal" textLength="22.88" lengthAdjust="spacingAndGlyphs" stroke="#000" stroke-width="0.35" stroke-linejoin="round">40</text>
<text x="568.33" y="1520.70" font-size="22.09" font-weight="normal" textLength="23.50" lengthAdjust="spacingAndGlyphs" stroke="#000" stroke-width="0.35" stroke-linejoin="round">60</text>
<text x="664.52" y="1520.70" font-size="22.09" font-weight="normal" textLength="22.47" lengthAdjust="spacingAndGlyphs" stroke="#000" stroke-width="0.35" stroke-linejoin="round">80</text>
<text x="755.88" y="1520.70" font-size="22.09" font-weight="normal" textLength="33.30" lengthAdjust="spacingAndGlyphs" stroke="#000" stroke-width="0.35" stroke-linejoin="round">100</text>
<text x="851.67" y="1520.70" font-size="22.09" font-weight="normal" textLength="33.41" lengthAdjust="spacingAndGlyphs" stroke="#000" stroke-width="0.35" stroke-linejoin="round">120</text>
<text x="946.12" y="1520.70" font-size="22.09" font-weight="normal" textLength="34.70" lengthAdjust="spacingAndGlyphs" stroke="#000" stroke-width="0.35" stroke-linejoin="round">140</text>
<text transform="translate(210.40 1547.10) rotate(-90)" x="-1.85" y="0" font-size="24.27" font-weight="normal" textLength="419.60" lengthAdjust="spacingAndGlyphs" stroke="#000" stroke-width="0.35" stroke-linejoin="round">INSTANTANEOUS REVERSE CURRENT (uA)</text>
<text x="412.49" y="1602.00" font-size="22.82" font-weight="normal" textLength="411.92" lengthAdjust="spacingAndGlyphs" stroke="#000" stroke-width="0.35" stroke-linejoin="round">PERCENT OF PEAK REVERSE VOLTAGE(%)</text>
<text x="1304.55" y="320.30" font-size="25.58" font-weight="normal" textLength="477.06" lengthAdjust="spacingAndGlyphs" stroke="#000" stroke-width="0.35" stroke-linejoin="round">FIG-3 FORWARD CURRENT DERATING CURVE</text>
<line x1="1357.00" y1="346.00" x2="1357.00" y2="688.00" stroke-width="2.00"/>
<line x1="1451.00" y1="346.00" x2="1451.00" y2="688.00" stroke-width="2.00"/>
<line x1="1545.00" y1="346.00" x2="1545.00" y2="688.00" stroke-width="2.00"/>
<line x1="1639.00" y1="346.00" x2="1639.00" y2="688.00" stroke-width="2.00"/>
<line x1="1733.00" y1="346.00" x2="1733.00" y2="688.00" stroke-width="2.00"/>
<line x1="1263.00" y1="388.75" x2="1827.00" y2="388.75" stroke-width="2.00"/>
<line x1="1263.00" y1="431.50" x2="1827.00" y2="431.50" stroke-width="2.00"/>
<line x1="1263.00" y1="474.25" x2="1827.00" y2="474.25" stroke-width="2.00"/>
<line x1="1263.00" y1="517.00" x2="1827.00" y2="517.00" stroke-width="2.00"/>
<line x1="1263.00" y1="559.75" x2="1827.00" y2="559.75" stroke-width="2.00"/>
<line x1="1263.00" y1="602.50" x2="1827.00" y2="602.50" stroke-width="2.00"/>
<line x1="1263.00" y1="645.25" x2="1827.00" y2="645.25" stroke-width="2.00"/>
<rect x="1263.00" y="346.00" width="564.00" height="342.00" fill="none" stroke-width="2.2"/>
<path d="M1263.00 347.00 L1471.00 347.00 L1827.00 686.00" fill="none" stroke-width="3.00" stroke-linejoin="round"/>
<text transform="translate(1245.80 351.30) scale(0.7201 1)" x="-0.55" y="0" font-size="17.44" font-weight="bold" letter-spacing="0.000" xml:space="preserve" style="stroke:#000;stroke-width:0.17px;vector-effect:none">8</text>
<text transform="translate(1245.80 436.50) scale(0.7353 1)" x="-0.64" y="0" font-size="17.44" font-weight="bold" letter-spacing="0.000" xml:space="preserve" style="stroke:#000;stroke-width:0.16px;vector-effect:none">6</text>
<text transform="translate(1245.80 522.00) scale(0.6636 1)" x="-0.26" y="0" font-size="17.44" font-weight="bold" letter-spacing="0.000" xml:space="preserve" style="stroke:#000;stroke-width:0.18px;vector-effect:none">4</text>
<text transform="translate(1245.80 608.40) scale(0.7383 1)" x="-0.60" y="0" font-size="17.44" font-weight="bold" letter-spacing="0.000" xml:space="preserve" style="stroke:#000;stroke-width:0.16px;vector-effect:none">2</text>
<text transform="translate(1245.80 693.50) scale(0.7474 1)" x="-0.69" y="0" font-size="17.44" font-weight="bold" letter-spacing="0.000" xml:space="preserve" style="stroke:#000;stroke-width:0.16px;vector-effect:none">0</text>
<text transform="translate(1258.30 711.60) scale(0.7707 1)" x="-0.70" y="0" font-size="17.73" font-weight="bold" letter-spacing="0.000" xml:space="preserve" style="stroke:#000;stroke-width:0.16px;vector-effect:none">0</text>
<text transform="translate(1346.70 711.60) scale(0.6200 1)" x="-0.61" y="0" font-size="17.73" font-weight="bold" letter-spacing="7.674" xml:space="preserve" style="stroke:#000;stroke-width:0.19px;vector-effect:none">25</text>
<text transform="translate(1441.40 711.60) scale(0.6200 1)" x="-0.55" y="0" font-size="17.73" font-weight="bold" letter-spacing="7.032" xml:space="preserve" style="stroke:#000;stroke-width:0.19px;vector-effect:none">50</text>
<text transform="translate(1536.60 711.60) scale(0.6200 1)" x="-0.76" y="0" font-size="17.73" font-weight="bold" letter-spacing="7.660" xml:space="preserve" style="stroke:#000;stroke-width:0.19px;vector-effect:none">75</text>
<text transform="translate(1626.50 711.60) scale(0.6200 1)" x="-1.12" y="0" font-size="17.73" font-weight="bold" letter-spacing="6.210" xml:space="preserve" style="stroke:#000;stroke-width:0.19px;vector-effect:none">100</text>
<text transform="translate(1719.70 711.60) scale(0.6200 1)" x="-1.12" y="0" font-size="17.73" font-weight="bold" letter-spacing="6.093" xml:space="preserve" style="stroke:#000;stroke-width:0.19px;vector-effect:none">125</text>
<text transform="translate(1813.60 711.60) scale(0.6200 1)" x="-1.12" y="0" font-size="17.73" font-weight="bold" letter-spacing="6.129" xml:space="preserve" style="stroke:#000;stroke-width:0.19px;vector-effect:none">150</text>
<text transform="translate(1437.10 775.80) scale(0.8000 1)" x="-0.78" y="0" font-size="18.90" font-weight="bold" letter-spacing="0.546" xml:space="preserve" style="stroke:#000;stroke-width:0.15px;vector-effect:none">CASE TEMPERATURE</text>
<text x="1610.68" y="775.80" font-size="18.90" font-weight="normal" textLength="4.40" lengthAdjust="spacingAndGlyphs" stroke="#000" stroke-width="0.35" stroke-linejoin="round">(</text>
<text x="1617.43" y="765.20" font-size="10.76" font-weight="bold" textLength="6.67" lengthAdjust="spacingAndGlyphs" stroke="#000" stroke-width="0.12" stroke-linejoin="round">0</text>
<text x="1629.47" y="775.80" font-size="18.90" font-weight="bold" textLength="9.28" lengthAdjust="spacingAndGlyphs" stroke="#000" stroke-width="0.12" stroke-linejoin="round">C</text>
<text x="1645.42" y="775.80" font-size="18.90" font-weight="normal" textLength="4.40" lengthAdjust="spacingAndGlyphs" stroke="#000" stroke-width="0.35" stroke-linejoin="round">)</text>
<text transform="translate(1205.60 718.00) rotate(-90)" x="-0.03" y="0" font-size="19.04" font-weight="normal" textLength="387.62" lengthAdjust="spacingAndGlyphs" stroke="#000" stroke-width="0.35" stroke-linejoin="round">AVERAGE FORWARD RECTIFIED CURRENT (Amp.)</text>
<text x="1322.91" y="808.70" font-size="24.71" font-weight="normal" textLength="429.22" lengthAdjust="spacingAndGlyphs" stroke="#000" stroke-width="0.35" stroke-linejoin="round">FIG-4 TYPICAL JUNCTION CAPACITANCE</text>
<line x1="1349.26" y1="834.50" x2="1349.26" y2="1189.00" stroke-width="1.15"/>
<line x1="1399.43" y1="834.50" x2="1399.43" y2="1189.00" stroke-width="1.15"/>
<line x1="1435.03" y1="834.50" x2="1435.03" y2="1189.00" stroke-width="1.15"/>
<line x1="1462.64" y1="834.50" x2="1462.64" y2="1189.00" stroke-width="1.15"/>
<line x1="1485.20" y1="834.50" x2="1485.20" y2="1189.00" stroke-width="1.15"/>
<line x1="1504.27" y1="834.50" x2="1504.27" y2="1189.00" stroke-width="1.15"/>
<line x1="1520.79" y1="834.50" x2="1520.79" y2="1189.00" stroke-width="1.15"/>
<line x1="1535.36" y1="834.50" x2="1535.36" y2="1189.00" stroke-width="1.15"/>
<line x1="1548.40" y1="834.50" x2="1548.40" y2="1189.00" stroke-width="1.15"/>
<line x1="1634.16" y1="834.50" x2="1634.16" y2="1189.00" stroke-width="1.15"/>
<line x1="1684.33" y1="834.50" x2="1684.33" y2="1189.00" stroke-width="1.15"/>
<line x1="1719.93" y1="834.50" x2="1719.93" y2="1189.00" stroke-width="1.15"/>
<line x1="1747.54" y1="834.50" x2="1747.54" y2="1189.00" stroke-width="1.15"/>
<line x1="1770.10" y1="834.50" x2="1770.10" y2="1189.00" stroke-width="1.15"/>
<line x1="1789.17" y1="834.50" x2="1789.17" y2="1189.00" stroke-width="1.15"/>
<line x1="1805.69" y1="834.50" x2="1805.69" y2="1189.00" stroke-width="1.15"/>
<line x1="1820.26" y1="834.50" x2="1820.26" y2="1189.00" stroke-width="1.15"/>
<line x1="1263.50" y1="1106.67" x2="1833.30" y2="1106.67" stroke-width="1.15"/>
<line x1="1263.50" y1="1058.51" x2="1833.30" y2="1058.51" stroke-width="1.15"/>
<line x1="1263.50" y1="1024.34" x2="1833.30" y2="1024.34" stroke-width="1.15"/>
<line x1="1263.50" y1="997.83" x2="1833.30" y2="997.83" stroke-width="1.15"/>
<line x1="1263.50" y1="976.18" x2="1833.30" y2="976.18" stroke-width="1.15"/>
<line x1="1263.50" y1="957.87" x2="1833.30" y2="957.87" stroke-width="1.15"/>
<line x1="1263.50" y1="942.00" x2="1833.30" y2="942.00" stroke-width="1.15"/>
<line x1="1263.50" y1="928.01" x2="1833.30" y2="928.01" stroke-width="1.15"/>
<line x1="1263.50" y1="915.50" x2="1833.30" y2="915.50" stroke-width="1.15"/>
<rect x="1263.50" y="834.50" width="569.80" height="354.50" fill="none" stroke-width="1.6"/>
<path d="M1263.69 914.54 L1265.44 915.70 L1267.20 916.87 L1268.96 918.04 L1270.71 919.20 L1272.47 920.37 L1274.23 921.54 L1275.99 922.71 L1277.74 923.87 L1279.50 925.04 L1281.26 926.21 L1283.02 927.38 L1284.78 928.55 L1286.54 929.72 L1288.30 930.89 L1290.06 932.06 L1291.83 933.23 L1293.59 934.40 L1295.35 935.57 L1297.12 936.74 L1298.88 937.91 L1300.64 939.08 L1302.41 940.25 L1304.17 941.42 L1305.94 942.59 L1307.71 943.76 L1309.47 944.93 L1311.24 946.10 L1313.01 947.27 L1314.78 948.44 L1316.55 949.61 L1318.32 950.78 L1320.09 951.95 L1321.86 953.12 L1323.63 954.29 L1325.41 955.46 L1327.18 956.62 L1328.95 957.79 L1330.73 958.96 L1332.50 960.12 L1334.28 961.29 L1336.05 962.46 L1337.83 963.62 L1339.61 964.79 L1341.39 965.95 L1343.17 967.11 L1344.95 968.28 L1346.73 969.44 L1348.51 970.60 L1350.29 971.76 L1352.07 972.92 L1353.86 974.08 L1355.64 975.24 L1357.43 976.40 L1359.21 977.55 L1361.00 978.71 L1362.78 979.86 L1364.57 981.02 L1366.36 982.17 L1368.15 983.33 L1369.94 984.48 L1371.73 985.63 L1373.52 986.78 L1375.32 987.93 L1377.11 989.07 L1378.90 990.22 L1380.70 991.37 L1382.49 992.51 L1384.29 993.65 L1386.09 994.80 L1387.89 995.94 L1389.69 997.08 L1391.49 998.22 L1393.29 999.35 L1395.09 1000.49 L1396.89 1001.63 L1398.70 1002.76 L1400.50 1003.89 L1402.31 1005.02 L1404.11 1006.15 L1405.92 1007.28 L1407.73 1008.41 L1409.54 1009.53 L1411.35 1010.65 L1413.16 1011.78 L1414.97 1012.90 L1416.79 1014.02 L1418.60 1015.13 L1420.42 1016.25 L1422.23 1017.36 L1424.05 1018.47 L1425.87 1019.59 L1427.69 1020.69 L1429.51 1021.80 L1431.33 1022.91 L1433.15 1024.01 L1434.97 1025.11 L1436.80 1026.21 L1438.62 1027.31 L1440.45 1028.41 L1442.28 1029.50 L1444.10 1030.59 L1445.93 1031.68 L1447.77 1032.77 L1449.60 1033.86 L1451.43 1034.94 L1453.26 1036.03 L1455.10 1037.11 L1456.94 1038.18 L1458.77 1039.26 L1460.61 1040.33 L1462.45 1041.41 L1464.29 1042.48 L1466.13 1043.54 L1467.98 1044.61 L1469.82 1045.67 L1471.67 1046.73 L1473.51 1047.79 L1475.36 1048.85 L1477.21 1049.90 L1479.06 1050.95 L1480.91 1052.00 L1482.76 1053.04 L1484.62 1054.09 L1486.47 1055.13 L1488.33 1056.17 L1490.19 1057.20 L1492.05 1058.24 L1493.91 1059.27 L1495.77 1060.30 L1497.63 1061.32 L1499.49 1062.35 L1501.36 1063.37 L1503.23 1064.38 L1505.09 1065.40 L1506.96 1066.41 L1508.83 1067.42 L1510.71 1068.43 L1512.58 1069.43 L1514.45 1070.43 L1516.33 1071.43 L1518.21 1072.43 L1520.08 1073.42 L1521.96 1074.41 L1523.85 1075.39 L1525.73 1076.38 L1527.61 1077.36 L1529.50 1078.33 L1531.38 1079.31 L1533.27 1080.28 L1535.16 1081.25 L1537.05 1082.21 L1538.95 1083.17 L1540.84 1084.13 L1542.73 1085.09 L1544.63 1086.04 L1546.53 1086.99 L1548.43 1087.93 L1550.33 1088.88 L1552.23 1089.81 L1554.14 1090.75 L1556.04 1091.68 L1557.95 1092.61 L1559.86 1093.53 L1561.77 1094.46 L1563.68 1095.37 L1565.59 1096.29 L1567.51 1097.20 L1569.42 1098.11 L1571.34 1099.01 L1573.26 1099.91 L1575.18 1100.81 L1577.10 1101.70 L1579.03 1102.59 L1580.95 1103.48 L1582.88 1104.36 L1584.81 1105.24 L1586.74 1106.11 L1588.67 1106.98 L1590.60 1107.85 L1592.54 1108.71 L1594.48 1109.57 L1596.41 1110.43 L1598.35 1111.28 L1600.30 1112.12 L1602.24 1112.97 L1604.18 1113.81 L1606.13 1114.64 L1608.08 1115.48 L1610.03 1116.30 L1611.98 1117.13 L1613.93 1117.95 L1615.89 1118.76 L1617.84 1119.57 L1619.80 1120.38 L1621.76 1121.18 L1623.72 1121.98 L1625.68 1122.78 L1627.65 1123.57 L1629.61 1124.36 L1631.58 1125.14 L1633.55 1125.92 L1635.52 1126.69 L1637.49 1127.46 L1639.47 1128.23 L1641.44 1128.99 L1643.42 1129.75 L1645.40 1130.50 L1647.38 1131.25 L1649.36 1132.00 L1651.35 1132.74 L1653.33 1133.48 L1655.32 1134.21 L1657.31 1134.94 L1659.30 1135.66 L1661.29 1136.38 L1663.28 1137.09 L1665.28 1137.80 L1667.27 1138.51 L1669.27 1139.21 L1671.27 1139.91 L1673.28 1140.60 L1675.28 1141.29 L1677.28 1141.97 L1679.29 1142.65 L1681.30 1143.32 L1683.31 1143.99 L1685.32 1144.66 L1687.34 1145.32 L1689.35 1145.98 L1691.37 1146.63 L1693.39 1147.28 L1695.41 1147.92 L1697.43 1148.56 L1699.45 1149.19 L1701.48 1149.82 L1703.50 1150.44 L1705.53 1151.06 L1707.56 1151.67 L1709.59 1152.28 L1711.63 1152.89 L1713.66 1153.49 L1715.70 1154.08 L1717.74 1154.67 L1719.78 1155.26 L1721.82 1155.84 L1723.86 1156.42 L1725.91 1156.99 L1727.96 1157.55 L1730.01 1158.11 L1732.06 1158.67 L1734.11 1159.22 L1736.16 1159.77 L1738.22 1160.31 L1740.27 1160.85 L1742.33 1161.38 L1744.39 1161.90 L1746.45 1162.43 L1748.52 1162.94 L1750.58 1163.45 L1752.65 1163.96 L1754.72 1164.46 L1756.79 1164.96 L1758.86 1165.45 L1760.94 1165.94 L1763.01 1166.42 L1765.09 1166.89 L1767.17 1167.36 L1769.25 1167.83 L1771.33 1168.29 L1773.42 1168.74 L1775.50 1169.19 L1777.59 1169.64 L1779.68 1170.08 L1781.77 1170.51 L1783.86 1170.94 L1785.96 1171.36 L1788.05 1171.78 L1790.15 1172.19 L1792.25 1172.60 L1794.35 1173.00 L1796.46 1173.40 L1798.56 1173.79 L1800.67 1174.18 L1802.78 1174.56 L1804.89 1174.93 L1807.00 1175.30 L1809.11 1175.67 L1811.23 1176.02 L1813.34 1176.38 L1815.46 1176.72 L1817.58 1177.07 L1819.70 1177.40 L1821.83 1177.73 L1823.95 1178.06 L1826.08 1178.38 L1828.21 1178.69 L1830.34 1179.00 L1832.47 1179.30 L1834.61 1179.60" fill="none" stroke-width="3.00" stroke-linejoin="round" stroke-linecap="round"/>
<text x="1227.76" y="841.20" font-size="18.75" font-weight="normal" textLength="27.89" lengthAdjust="spacingAndGlyphs" stroke="#000" stroke-width="0.35" stroke-linejoin="round">200</text>
<text x="1227.31" y="922.50" font-size="18.75" font-weight="normal" textLength="28.36" lengthAdjust="spacingAndGlyphs" stroke="#000" stroke-width="0.35" stroke-linejoin="round">100</text>
<text x="1235.68" y="1004.90" font-size="18.75" font-weight="normal" textLength="20.02" lengthAdjust="spacingAndGlyphs" stroke="#000" stroke-width="0.35" stroke-linejoin="round">50</text>
<text x="1237.13" y="1195.60" font-size="19.33" font-weight="normal" textLength="18.52" lengthAdjust="spacingAndGlyphs" stroke="#000" stroke-width="0.35" stroke-linejoin="round">10</text>
<text x="1258.45" y="1213.40" font-size="19.19" font-weight="normal" textLength="6.97" lengthAdjust="spacingAndGlyphs" stroke="#000" stroke-width="0.35" stroke-linejoin="round">1</text>
<text x="1457.67" y="1213.40" font-size="19.19" font-weight="normal" textLength="10.09" lengthAdjust="spacingAndGlyphs" stroke="#000" stroke-width="0.35" stroke-linejoin="round">5</text>
<text x="1538.26" y="1213.40" font-size="19.19" font-weight="normal" textLength="19.52" lengthAdjust="spacingAndGlyphs" stroke="#000" stroke-width="0.35" stroke-linejoin="round">10</text>
<text x="1738.91" y="1213.40" font-size="19.19" font-weight="normal" textLength="19.16" lengthAdjust="spacingAndGlyphs" stroke="#000" stroke-width="0.35" stroke-linejoin="round">50</text>
<text x="1818.30" y="1213.40" font-size="19.19" font-weight="normal" textLength="28.57" lengthAdjust="spacingAndGlyphs" stroke="#000" stroke-width="0.35" stroke-linejoin="round">100</text>
<text x="1429.44" y="1274.10" font-size="19.91" font-weight="normal" textLength="219.19" lengthAdjust="spacingAndGlyphs" stroke="#000" stroke-width="0.35" stroke-linejoin="round">REVERSE VOLTAGE (Volts.)</text>
<text transform="translate(1193.50 1155.40) rotate(-90)" x="-0.25" y="0" font-size="20.64" font-weight="normal" textLength="234.85" lengthAdjust="spacingAndGlyphs" stroke="#000" stroke-width="0.35" stroke-linejoin="round">JUNCTION CAPACITANCE (pF)</text>
<text x="1322.21" y="1316.40" font-size="23.84" font-weight="normal" textLength="434.59" lengthAdjust="spacingAndGlyphs" stroke="#000" stroke-width="0.35" stroke-linejoin="round">FIG-5 PEAK FORWARD SURGE CURRENT</text>
<line x1="1352.65" y1="1342.80" x2="1352.65" y2="1705.50" stroke-width="1.15"/>
<line x1="1402.28" y1="1342.80" x2="1402.28" y2="1705.50" stroke-width="1.15"/>
<line x1="1437.49" y1="1342.80" x2="1437.49" y2="1705.50" stroke-width="1.15"/>
<line x1="1464.80" y1="1342.80" x2="1464.80" y2="1705.50" stroke-width="2.00"/>
<line x1="1487.12" y1="1342.80" x2="1487.12" y2="1705.50" stroke-width="1.15"/>
<line x1="1505.99" y1="1342.80" x2="1505.99" y2="1705.50" stroke-width="1.15"/>
<line x1="1522.34" y1="1342.80" x2="1522.34" y2="1705.50" stroke-width="1.15"/>
<line x1="1536.75" y1="1342.80" x2="1536.75" y2="1705.50" stroke-width="1.15"/>
<line x1="1549.65" y1="1342.80" x2="1549.65" y2="1705.50" stroke-width="2.00"/>
<line x1="1634.50" y1="1342.80" x2="1634.50" y2="1705.50" stroke-width="1.15"/>
<line x1="1684.13" y1="1342.80" x2="1684.13" y2="1705.50" stroke-width="1.15"/>
<line x1="1719.34" y1="1342.80" x2="1719.34" y2="1705.50" stroke-width="1.15"/>
<line x1="1746.65" y1="1342.80" x2="1746.65" y2="1705.50" stroke-width="1.15"/>
<line x1="1768.97" y1="1342.80" x2="1768.97" y2="1705.50" stroke-width="1.15"/>
<line x1="1787.84" y1="1342.80" x2="1787.84" y2="1705.50" stroke-width="2.00"/>
<line x1="1804.19" y1="1342.80" x2="1804.19" y2="1705.50" stroke-width="2.00"/>
<line x1="1818.60" y1="1342.80" x2="1818.60" y2="1705.50" stroke-width="2.00"/>
<line x1="1267.80" y1="1379.07" x2="1831.50" y2="1379.07" stroke-width="1.15"/>
<line x1="1267.80" y1="1415.34" x2="1831.50" y2="1415.34" stroke-width="1.15"/>
<line x1="1267.80" y1="1451.61" x2="1831.50" y2="1451.61" stroke-width="1.15"/>
<line x1="1267.80" y1="1487.88" x2="1831.50" y2="1487.88" stroke-width="1.15"/>
<line x1="1267.80" y1="1524.15" x2="1831.50" y2="1524.15" stroke-width="1.15"/>
<line x1="1267.80" y1="1560.42" x2="1831.50" y2="1560.42" stroke-width="1.15"/>
<line x1="1267.80" y1="1596.69" x2="1831.50" y2="1596.69" stroke-width="1.15"/>
<line x1="1267.80" y1="1632.96" x2="1831.50" y2="1632.96" stroke-width="1.15"/>
<line x1="1267.80" y1="1669.23" x2="1831.50" y2="1669.23" stroke-width="1.15"/>
<rect x="1267.80" y="1342.80" width="563.70" height="362.70" fill="none" stroke-width="1.6"/>
<path d="M1267.73 1342.16 L1269.08 1343.85 L1270.44 1345.52 L1271.80 1347.19 L1273.17 1348.85 L1274.55 1350.50 L1275.93 1352.15 L1277.31 1353.78 L1278.71 1355.41 L1280.10 1357.04 L1281.51 1358.65 L1282.91 1360.26 L1284.33 1361.86 L1285.75 1363.45 L1287.17 1365.04 L1288.60 1366.62 L1290.04 1368.19 L1291.48 1369.76 L1292.93 1371.31 L1294.38 1372.86 L1295.83 1374.41 L1297.30 1375.94 L1298.76 1377.47 L1300.24 1378.99 L1301.71 1380.51 L1303.20 1382.02 L1304.68 1383.52 L1306.18 1385.01 L1307.68 1386.50 L1309.18 1387.98 L1310.69 1389.45 L1312.20 1390.91 L1313.72 1392.37 L1315.24 1393.82 L1316.77 1395.27 L1318.30 1396.71 L1319.84 1398.14 L1321.38 1399.56 L1322.93 1400.98 L1324.49 1402.39 L1326.04 1403.79 L1327.61 1405.19 L1329.17 1406.58 L1330.74 1407.96 L1332.32 1409.34 L1333.90 1410.70 L1335.49 1412.07 L1337.08 1413.42 L1338.68 1414.77 L1340.28 1416.11 L1341.88 1417.45 L1343.49 1418.78 L1345.10 1420.10 L1346.72 1421.41 L1348.34 1422.72 L1349.97 1424.02 L1351.60 1425.32 L1353.24 1426.61 L1354.88 1427.89 L1356.53 1429.17 L1358.18 1430.43 L1359.83 1431.70 L1361.49 1432.95 L1363.15 1434.20 L1364.82 1435.45 L1366.49 1436.68 L1368.16 1437.91 L1369.84 1439.14 L1371.53 1440.35 L1373.21 1441.56 L1374.91 1442.77 L1376.60 1443.96 L1378.30 1445.16 L1380.01 1446.34 L1381.71 1447.52 L1383.43 1448.69 L1385.14 1449.86 L1386.86 1451.02 L1388.59 1452.17 L1390.32 1453.32 L1392.05 1454.46 L1393.78 1455.59 L1395.53 1456.72 L1397.27 1457.84 L1399.02 1458.96 L1400.77 1460.07 L1402.52 1461.17 L1404.28 1462.27 L1406.05 1463.36 L1407.81 1464.45 L1409.58 1465.53 L1411.36 1466.60 L1413.13 1467.67 L1414.91 1468.73 L1416.70 1469.78 L1418.49 1470.83 L1420.28 1471.87 L1422.08 1472.91 L1423.87 1473.94 L1425.68 1474.96 L1427.48 1475.98 L1429.29 1477.00 L1431.11 1478.00 L1432.92 1479.00 L1434.74 1480.00 L1436.56 1480.99 L1438.39 1481.97 L1440.22 1482.95 L1442.05 1483.92 L1443.89 1484.88 L1445.73 1485.84 L1447.57 1486.80 L1449.42 1487.75 L1451.27 1488.69 L1453.12 1489.63 L1454.97 1490.56 L1456.83 1491.48 L1458.69 1492.40 L1460.56 1493.32 L1462.43 1494.22 L1464.30 1495.13 L1466.17 1496.02 L1468.05 1496.91 L1469.93 1497.80 L1471.81 1498.68 L1473.69 1499.55 L1475.58 1500.42 L1477.47 1501.29 L1479.37 1502.14 L1481.27 1503.00 L1483.16 1503.84 L1485.07 1504.68 L1486.97 1505.52 L1488.88 1506.35 L1490.79 1507.17 L1492.70 1507.99 L1494.62 1508.81 L1496.54 1509.62 L1498.46 1510.42 L1500.38 1511.22 L1502.31 1512.01 L1504.24 1512.80 L1506.17 1513.58 L1508.10 1514.35 L1510.04 1515.13 L1511.98 1515.89 L1513.92 1516.65 L1515.86 1517.41 L1517.81 1518.16 L1519.76 1518.90 L1521.71 1519.64 L1523.66 1520.38 L1525.62 1521.10 L1527.57 1521.83 L1529.53 1522.55 L1531.50 1523.26 L1533.46 1523.97 L1535.43 1524.67 L1537.40 1525.37 L1539.37 1526.06 L1541.34 1526.75 L1543.31 1527.44 L1545.29 1528.11 L1547.27 1528.79 L1549.25 1529.45 L1551.24 1530.12 L1553.22 1530.78 L1555.21 1531.43 L1557.20 1532.08 L1559.19 1532.72 L1561.18 1533.36 L1563.17 1533.99 L1565.17 1534.62 L1567.17 1535.24 L1569.17 1535.86 L1571.17 1536.48 L1573.18 1537.09 L1575.18 1537.69 L1577.19 1538.29 L1579.20 1538.88 L1581.21 1539.47 L1583.22 1540.06 L1585.23 1540.64 L1587.25 1541.22 L1589.26 1541.79 L1591.28 1542.35 L1593.30 1542.92 L1595.32 1543.47 L1597.35 1544.02 L1599.37 1544.57 L1601.40 1545.12 L1603.42 1545.65 L1605.45 1546.19 L1607.48 1546.72 L1609.51 1547.24 L1611.55 1547.76 L1613.58 1548.28 L1615.62 1548.79 L1617.65 1549.30 L1619.69 1549.80 L1621.73 1550.30 L1623.77 1550.79 L1625.81 1551.28 L1627.85 1551.76 L1629.90 1552.24 L1631.94 1552.72 L1633.99 1553.19 L1636.03 1553.66 L1638.08 1554.12 L1640.13 1554.58 L1642.18 1555.03 L1644.23 1555.48 L1646.28 1555.93 L1648.34 1556.37 L1650.39 1556.80 L1652.44 1557.24 L1654.50 1557.66 L1656.55 1558.09 L1658.61 1558.51 L1660.67 1558.92 L1662.73 1559.34 L1664.79 1559.74 L1666.85 1560.15 L1668.91 1560.55 L1670.97 1560.94 L1673.03 1561.33 L1675.09 1561.72 L1677.15 1562.10 L1679.22 1562.48 L1681.28 1562.85 L1683.35 1563.23 L1685.41 1563.59 L1687.48 1563.95 L1689.54 1564.31 L1691.61 1564.67 L1693.68 1565.02 L1695.75 1565.37 L1697.81 1565.71 L1699.88 1566.05 L1701.95 1566.38 L1704.02 1566.71 L1706.09 1567.04 L1708.16 1567.37 L1710.23 1567.69 L1712.30 1568.00 L1714.37 1568.31 L1716.44 1568.62 L1718.51 1568.93 L1720.58 1569.23 L1722.65 1569.53 L1724.72 1569.82 L1726.79 1570.11 L1728.86 1570.39 L1730.93 1570.68 L1733.00 1570.96 L1735.07 1571.23 L1737.14 1571.50 L1739.21 1571.77 L1741.28 1572.03 L1743.35 1572.30 L1745.42 1572.55 L1747.49 1572.81 L1749.56 1573.06 L1751.63 1573.30 L1753.70 1573.55 L1755.77 1573.78 L1757.84 1574.02 L1759.91 1574.25 L1761.98 1574.48 L1764.04 1574.71 L1766.11 1574.93 L1768.18 1575.15 L1770.24 1575.36 L1772.31 1575.58 L1774.38 1575.79 L1776.44 1575.99 L1778.51 1576.19 L1780.57 1576.39 L1782.63 1576.59 L1784.70 1576.78 L1786.76 1576.97 L1788.82 1577.15 L1790.88 1577.34 L1792.94 1577.52 L1795.00 1577.69 L1797.06 1577.86 L1799.12 1578.03 L1801.18 1578.20 L1803.23 1578.36 L1805.29 1578.52 L1807.34 1578.68 L1809.40 1578.83 L1811.45 1578.98 L1813.50 1579.13 L1815.56 1579.28 L1817.61 1579.42 L1819.66 1579.56 L1821.71 1579.69 L1823.75 1579.83 L1825.80 1579.96" fill="none" stroke-width="3.00" stroke-linejoin="round" stroke-linecap="round"/>
<text x="1232.73" y="1350.40" font-size="21.66" font-weight="normal" textLength="27.87" lengthAdjust="spacingAndGlyphs" stroke="#000" stroke-width="0.35" stroke-linejoin="round">125</text>
<text x="1232.73" y="1423.20" font-size="21.22" font-weight="normal" textLength="27.82" lengthAdjust="spacingAndGlyphs" stroke="#000" stroke-width="0.35" stroke-linejoin="round">100</text>
<text x="1241.10" y="1494.70" font-size="19.48" font-weight="normal" textLength="19.54" lengthAdjust="spacingAndGlyphs" stroke="#000" stroke-width="0.35" stroke-linejoin="round">75</text>
<text x="1241.41" y="1566.90" font-size="18.02" font-weight="normal" textLength="19.16" lengthAdjust="spacingAndGlyphs" stroke="#000" stroke-width="0.35" stroke-linejoin="round">50</text>
<text x="1241.12" y="1639.60" font-size="19.48" font-weight="normal" textLength="19.52" lengthAdjust="spacingAndGlyphs" stroke="#000" stroke-width="0.35" stroke-linejoin="round">25</text>
<text x="1250.49" y="1711.90" font-size="19.91" font-weight="normal" textLength="10.12" lengthAdjust="spacingAndGlyphs" stroke="#000" stroke-width="0.35" stroke-linejoin="round">0</text>
<text x="1263.79" y="1729.00" font-size="19.48" font-weight="normal" textLength="7.35" lengthAdjust="spacingAndGlyphs" stroke="#000" stroke-width="0.35" stroke-linejoin="round">1</text>
<text x="1459.69" y="1729.00" font-size="19.48" font-weight="normal" textLength="9.85" lengthAdjust="spacingAndGlyphs" stroke="#000" stroke-width="0.35" stroke-linejoin="round">5</text>
<text x="1540.78" y="1729.00" font-size="19.48" font-weight="normal" textLength="17.85" lengthAdjust="spacingAndGlyphs" stroke="#000" stroke-width="0.35" stroke-linejoin="round">10</text>
<text x="1737.94" y="1729.00" font-size="19.48" font-weight="normal" textLength="18.41" lengthAdjust="spacingAndGlyphs" stroke="#000" stroke-width="0.35" stroke-linejoin="round">50</text>
<text x="1818.38" y="1729.00" font-size="19.48" font-weight="normal" textLength="26.64" lengthAdjust="spacingAndGlyphs" stroke="#000" stroke-width="0.35" stroke-linejoin="round">100</text>
<text x="1418.34" y="1791.50" font-size="20.20" font-weight="normal" textLength="244.09" lengthAdjust="spacingAndGlyphs" stroke="#000" stroke-width="0.35" stroke-linejoin="round">NUMBER OF CYCLES AT 60 Hz</text>
<text transform="translate(1198.20 1727.20) rotate(-90)" x="-1.31" y="0" font-size="19.62" font-weight="normal" textLength="324.79" lengthAdjust="spacingAndGlyphs" stroke="#000" stroke-width="0.35" stroke-linejoin="round">PEAK FORWARD SURGE CURRENT (Amp.)</text>
<line x1="1341.91" y1="1842.80" x2="1341.91" y2="2147.20" stroke-width="1.15"/>
<line x1="1412.03" y1="1842.80" x2="1412.03" y2="2147.20" stroke-width="1.15"/>
<line x1="1482.14" y1="1842.80" x2="1482.14" y2="2147.20" stroke-width="1.15"/>
<line x1="1552.25" y1="1842.80" x2="1552.25" y2="2147.20" stroke-width="1.90"/>
<line x1="1622.36" y1="1842.80" x2="1622.36" y2="2147.20" stroke-width="1.15"/>
<line x1="1692.47" y1="1842.80" x2="1692.47" y2="2147.20" stroke-width="1.15"/>
<line x1="1762.59" y1="1842.80" x2="1762.59" y2="2147.20" stroke-width="1.15"/>
<line x1="1271.80" y1="1893.53" x2="1832.70" y2="1893.53" stroke-width="1.15"/>
<line x1="1271.80" y1="1944.27" x2="1832.70" y2="1944.27" stroke-width="1.15"/>
<line x1="1271.80" y1="1995.00" x2="1832.70" y2="1995.00" stroke-width="1.15"/>
<line x1="1271.80" y1="2045.73" x2="1832.70" y2="2045.73" stroke-width="1.15"/>
<line x1="1271.80" y1="2096.47" x2="1832.70" y2="2096.47" stroke-width="1.15"/>
<rect x="1271.80" y="1842.80" width="560.90" height="304.40" fill="none" stroke-width="1.5"/>
<line x1="1310.50" y1="1794.00" x2="1310.50" y2="1945.00" stroke-width="1.20"/>
<line x1="1513.50" y1="1794.00" x2="1513.50" y2="1996.00" stroke-width="1.20"/>
<line x1="1370.90" y1="1808.40" x2="1325.50" y2="1808.40" stroke-width="1.50"/><path d="M1314.30 1808.40 L1328.30 1804.90 L1328.30 1811.90 Z" fill="#000" stroke="none"/>
<line x1="1451.40" y1="1808.40" x2="1498.40" y2="1808.40" stroke-width="1.50"/><path d="M1509.60 1808.40 L1495.60 1811.90 L1495.60 1804.90 Z" fill="#000" stroke="none"/>
<text x="1402.79" y="1817.00" font-size="18.25" font-weight="bold" textLength="5.61" lengthAdjust="spacingAndGlyphs" stroke="#000" stroke-width="0.12" stroke-linejoin="round">t</text>
<text x="1408.30" y="1819.80" font-size="12.27" font-weight="bold" textLength="11.83" lengthAdjust="spacingAndGlyphs" stroke="#000" stroke-width="0.12" stroke-linejoin="round">rr</text>
<path d="M1273.20 1843.40 L1274.48 1845.97 L1275.73 1848.56 L1276.94 1851.16 L1278.13 1853.78 L1279.30 1856.40 L1280.43 1859.04 L1281.54 1861.68 L1282.63 1864.34 L1283.70 1867.01 L1284.75 1869.68 L1285.78 1872.37 L1286.79 1875.06 L1287.78 1877.75 L1288.76 1880.46 L1289.73 1883.17 L1290.68 1885.88 L1291.62 1888.60 L1292.55 1891.33 L1293.48 1894.06 L1294.39 1896.79 L1295.31 1899.52 L1296.21 1902.25 L1297.12 1904.99 L1298.02 1907.72 L1298.92 1910.45 L1299.83 1913.19 L1300.73 1915.92 L1301.64 1918.65 L1302.55 1921.38 L1303.47 1924.10 L1304.40 1926.82 L1305.34 1929.54 L1306.29 1932.25 L1307.24 1934.95 L1308.22 1937.65 L1309.20 1940.34 L1310.20 1943.02 L1311.22 1945.70 L1312.26 1948.37 L1313.31 1951.03 L1314.37 1953.68 L1315.44 1956.33 L1316.51 1958.98 L1317.59 1961.63 L1318.66 1964.28 L1319.73 1966.93 L1320.80 1969.59 L1321.85 1972.25 L1322.89 1974.92 L1323.91 1977.59 L1324.91 1980.28 L1325.88 1982.98 L1326.83 1985.70 L1327.75 1988.42 L1328.65 1991.16 L1329.52 1993.92 L1330.36 1996.68 L1331.18 1999.45 L1331.98 2002.23 L1332.76 2005.02 L1333.52 2007.82 L1334.26 2010.62 L1334.98 2013.42 L1335.68 2016.23 L1336.37 2019.04 L1337.04 2021.85 L1337.70 2024.66 L1338.35 2027.47 L1338.99 2030.28 L1339.61 2033.08 L1340.23 2035.88 L1340.83 2038.68 L1341.43 2041.47 L1342.03 2044.25 L1342.61 2047.03 L1343.20 2049.79 L1343.78 2052.55 L1344.36 2055.29 L1344.93 2058.03 L1345.50 2060.75 L1346.07 2063.48 L1346.63 2066.20 L1347.19 2068.93 L1347.74 2071.67 L1348.28 2074.41 L1348.81 2077.16 L1349.33 2079.93 L1349.84 2082.72 L1350.34 2085.53 L1350.82 2088.36 L1351.29 2091.23 L1351.74 2094.12 L1352.18 2097.04 L1352.60 2100.00 L1353.01 2103.00 L1353.39 2106.05 L1353.77 2109.12 L1354.16 2112.20 L1354.59 2115.28 L1355.07 2118.34 L1355.63 2121.35 L1356.28 2124.30 L1357.05 2127.17 L1357.95 2129.93 L1359.00 2132.59 L1360.23 2135.10 L1361.65 2137.46 L1363.29 2139.65 L1365.16 2141.65 L1367.29 2143.44 L1369.68 2144.99 L1372.26 2146.22 L1374.94 2147.01 L1377.62 2147.28 L1380.24 2146.98 L1382.80 2146.19 L1385.28 2144.99 L1387.67 2143.46 L1389.98 2141.69 L1392.19 2139.75 L1394.30 2137.73 L1396.30 2135.64 L1398.22 2133.48 L1400.04 2131.27 L1401.78 2129.00 L1403.44 2126.67 L1405.02 2124.30 L1406.53 2121.88 L1407.97 2119.41 L1409.36 2116.91 L1410.68 2114.37 L1411.96 2111.79 L1413.18 2109.18 L1414.36 2106.54 L1415.51 2103.88 L1416.62 2101.20 L1417.70 2098.49 L1418.76 2095.78 L1419.80 2093.05 L1420.83 2090.31 L1421.84 2087.56 L1422.86 2084.81 L1423.87 2082.07 L1424.88 2079.32 L1425.91 2076.59 L1426.95 2073.86 L1428.01 2071.14 L1429.09 2068.45 L1430.20 2065.77 L1431.34 2063.11 L1432.52 2060.48 L1433.74 2057.88 L1435.01 2055.31 L1436.34 2052.78 L1437.72 2050.28 L1439.16 2047.83 L1440.66 2045.42 L1442.24 2043.06 L1443.89 2040.75 L1445.61 2038.49 L1447.40 2036.28 L1449.26 2034.12 L1451.17 2032.01 L1453.15 2029.95 L1455.19 2027.94 L1457.29 2025.98 L1459.44 2024.07 L1461.64 2022.21 L1463.89 2020.40 L1466.19 2018.65 L1468.53 2016.94 L1470.92 2015.29 L1473.34 2013.69 L1475.81 2012.14 L1478.31 2010.64 L1480.85 2009.19 L1483.41 2007.80 L1486.01 2006.45 L1488.63 2005.16 L1491.28 2003.92 L1493.94 2002.73 L1496.63 2001.60 L1499.34 2000.52 L1502.06 1999.49 L1504.79 1998.51 L1507.54 1997.59 L1510.29 1996.72 L1513.05 1995.90 L1515.81 1995.13 L1518.58 1994.42 L1521.35 1993.75 L1524.12 1993.12 L1526.90 1992.53 L1529.68 1991.97 L1532.46 1991.45 L1535.25 1990.95 L1538.04 1990.47 L1540.84 1990.01 L1543.63 1989.57 L1546.44 1989.13 L1549.24 1988.70 L1552.06 1988.27 L1554.87 1987.84 L1557.69 1987.41 L1560.51 1986.97 L1563.34 1986.53 L1566.17 1986.09 L1569.00 1985.64 L1571.84 1985.19 L1574.68 1984.74 L1577.52 1984.29 L1580.36 1983.84 L1583.21 1983.38 L1586.06 1982.92 L1588.91 1982.46 L1591.75 1982.00 L1594.61 1981.54 L1597.46 1981.08 L1600.31 1980.62 L1603.16 1980.16 L1606.01 1979.69 L1608.86 1979.23 L1611.72 1978.77 L1614.57 1978.30 L1617.42 1977.84 L1620.26 1977.38 L1623.11 1976.92 L1625.96 1976.46 L1628.80 1976.00 L1631.64 1975.55 L1634.48 1975.09 L1637.32 1974.64 L1640.16 1974.18 L1643.00 1973.73 L1645.84 1973.28 L1648.67 1972.82 L1651.51 1972.37 L1654.34 1971.92 L1657.17 1971.47 L1660.01 1971.02 L1662.84 1970.57 L1665.67 1970.12 L1668.50 1969.67 L1671.34 1969.23 L1674.17 1968.78 L1677.00 1968.33 L1679.83 1967.88 L1682.66 1967.43 L1685.49 1966.99 L1688.33 1966.54 L1691.16 1966.09 L1693.99 1965.64 L1696.82 1965.20 L1699.66 1964.75 L1702.49 1964.30 L1705.33 1963.85 L1708.16 1963.40 L1711.00 1962.95 L1713.83 1962.50 L1716.67 1962.05 L1719.51 1961.61 L1722.34 1961.16 L1725.18 1960.71 L1728.02 1960.26 L1730.85 1959.81 L1733.69 1959.36 L1736.53 1958.91 L1739.37 1958.46 L1742.21 1958.01 L1745.04 1957.56 L1747.88 1957.10 L1750.72 1956.65 L1753.56 1956.20 L1756.40 1955.75 L1759.24 1955.30 L1762.08 1954.85 L1764.91 1954.40 L1767.75 1953.94 L1770.59 1953.49 L1773.43 1953.04 L1776.27 1952.59 L1779.10 1952.13 L1781.94 1951.68 L1784.78 1951.23 L1787.62 1950.77 L1790.45 1950.32 L1793.29 1949.86 L1796.13 1949.41 L1798.96 1948.96 L1801.80 1948.50 L1804.63 1948.05 L1807.47 1947.59 L1810.30 1947.14 L1813.14 1946.68 L1815.97 1946.23 L1818.80 1945.77 L1821.64 1945.31 L1824.47 1944.86 L1827.30 1944.40" fill="none" stroke-width="3.00" stroke-linejoin="round" stroke-linecap="round"/>
<text x="1220.67" y="1849.90" font-size="15.84" font-weight="normal" textLength="44.86" lengthAdjust="spacingAndGlyphs" stroke="#000" stroke-width="0.35" stroke-linejoin="round">+0.5A</text>
<text x="1254.77" y="1952.00" font-size="17.44" font-weight="normal" textLength="10.35" lengthAdjust="spacingAndGlyphs" stroke="#000" stroke-width="0.35" stroke-linejoin="round">0</text>
<text x="1215.24" y="2003.00" font-size="17.44" font-weight="normal" textLength="50.70" lengthAdjust="spacingAndGlyphs" stroke="#000" stroke-width="0.35" stroke-linejoin="round">-0.25A</text>
<text x="1225.45" y="2155.30" font-size="17.44" font-weight="normal" textLength="40.49" lengthAdjust="spacingAndGlyphs" stroke="#000" stroke-width="0.35" stroke-linejoin="round">-1.0A</text>
<text x="1395.51" y="2224.10" font-size="20.93" font-weight="normal" textLength="265.86" lengthAdjust="spacingAndGlyphs" stroke="#000" stroke-width="0.35" stroke-linejoin="round">Set time base for 10/20  ns/div</text>
<path d="M378.50 1944.50 L378.50 1844.40 L438.50 1844.40" fill="none" stroke-width="2.60" stroke-linejoin="round"/>
<path d="M438.50 1844.40 L442.14 1839.10 L449.41 1849.70 L456.69 1839.10 L463.96 1849.70 L471.24 1839.10 L478.51 1849.70 L485.79 1839.10 L493.06 1849.70 L496.70 1844.40" fill="none" stroke-width="2.60" stroke-linejoin="round"/>
<line x1="496.70" y1="1844.40" x2="674.40" y2="1844.40" stroke-width="2.60"/>
<path d="M674.40 1843.80 L678.00 1838.50 L685.20 1849.10 L692.40 1838.50 L699.60 1849.10 L706.80 1838.50 L714.00 1849.10 L721.20 1838.50 L728.40 1849.10 L732.00 1843.80" fill="none" stroke-width="2.60" stroke-linejoin="round"/>
<path d="M732.00 1843.80 L826.60 1843.80 L826.60 1924.00" fill="none" stroke-width="2.60" stroke-linejoin="round"/>
<rect x="739.4" y="1924.2" width="174.4" height="106.6" fill="none" stroke-width="3"/>
<path d="M826.80 2030.80 L826.80 2110.00 L378.50 2110.00 L378.50 1988.10" fill="none" stroke-width="2.60" stroke-linejoin="round"/>
<line x1="364.00" y1="1945.50" x2="392.00" y2="1945.50" stroke-width="3.00"/>
<line x1="373.00" y1="1950.00" x2="384.00" y2="1950.00" stroke-width="2.00"/>
<line x1="364.00" y1="1956.00" x2="392.00" y2="1956.00" stroke-width="2.00"/>
<line x1="372.10" y1="1962.40" x2="385.00" y2="1962.40" stroke-width="3.00"/>
<line x1="364.00" y1="1969.00" x2="392.00" y2="1969.00" stroke-width="2.00"/>
<line x1="372.10" y1="1975.00" x2="386.00" y2="1975.00" stroke-width="2.00"/>
<line x1="364.00" y1="1981.50" x2="392.00" y2="1981.50" stroke-width="1.20"/>
<line x1="370.00" y1="1988.10" x2="387.00" y2="1988.10" stroke-width="2.00"/>
<line x1="554.30" y1="1844.40" x2="554.30" y2="2019.20" stroke-width="2.60"/>
<path d="M538.5 1885 L569 1885 L554.4 1903.5 Z" fill="none" stroke-width="2.5" stroke-linejoin="miter"/>
<line x1="540.00" y1="1905.50" x2="568.00" y2="1905.50" stroke-width="3.00"/>
<path d="M554.40 2019.50 C555.33 2020.08 561.10 2021.40 560.00 2023.00 C558.90 2024.60 547.80 2027.13 547.80 2029.10 C547.80 2031.07 560.00 2032.85 560.00 2034.80 C560.00 2036.75 547.80 2038.77 547.80 2040.80 C547.80 2042.83 560.00 2045.03 560.00 2047.00 C560.00 2048.97 547.80 2050.57 547.80 2052.60 C547.80 2054.63 560.00 2057.15 560.00 2059.20 C560.00 2061.25 548.73 2063.35 547.80 2064.90 C546.87 2066.45 553.30 2067.90 554.40 2068.50" fill="none" stroke-width="2.60" stroke-linejoin="round" stroke-linecap="round"/>
<line x1="554.30" y1="2010.00" x2="554.30" y2="2020.00" stroke-width="2.60"/>
<line x1="554.30" y1="2068.00" x2="554.30" y2="2110.00" stroke-width="2.60"/>
<path d="M554.30 1969.90 L620.00 1969.90 L620.00 2033.40" fill="none" stroke-width="2.60" stroke-linejoin="round"/>
<ellipse cx="620" cy="2044.8" rx="14.3" ry="10.4" fill="none" stroke-width="3"/>
<line x1="620.00" y1="2056.40" x2="620.00" y2="2110.00" stroke-width="2.60"/>
<text x="612.10" y="2051.60" font-size="20.79" font-weight="bold" textLength="17.02" lengthAdjust="spacingAndGlyphs" stroke="#000" stroke-width="0.12" stroke-linejoin="round">O</text>
<text x="438.71" y="1828.60" font-size="18.60" font-weight="bold" textLength="28.43" lengthAdjust="spacingAndGlyphs" stroke="#000" stroke-width="0.12" stroke-linejoin="round">50</text>
<text x="471.89" y="1828.60" font-size="18.60" font-weight="bold" textLength="22.03" lengthAdjust="spacingAndGlyphs" stroke="#000" stroke-width="0.12" stroke-linejoin="round">Ω</text>
<text x="510.90" y="1828.60" font-size="18.60" font-weight="bold" textLength="23.90" lengthAdjust="spacingAndGlyphs" stroke="#000" stroke-width="0.12" stroke-linejoin="round">NI</text>
<text x="673.34" y="1828.30" font-size="19.19" font-weight="bold" textLength="25.70" lengthAdjust="spacingAndGlyphs" stroke="#000" stroke-width="0.12" stroke-linejoin="round">10</text>
<text x="706.88" y="1828.30" font-size="19.19" font-weight="bold" textLength="22.14" lengthAdjust="spacingAndGlyphs" stroke="#000" stroke-width="0.12" stroke-linejoin="round">Ω</text>
<text x="741.99" y="1828.30" font-size="19.19" font-weight="bold" textLength="24.13" lengthAdjust="spacingAndGlyphs" stroke="#000" stroke-width="0.12" stroke-linejoin="round">NI</text>
<text x="583.99" y="1886.80" font-size="20.06" font-weight="bold" textLength="72.99" lengthAdjust="spacingAndGlyphs" stroke="#000" stroke-width="0.12" stroke-linejoin="round">Device</text>
<text x="584.18" y="1909.50" font-size="20.06" font-weight="bold" textLength="63.66" lengthAdjust="spacingAndGlyphs" stroke="#000" stroke-width="0.12" stroke-linejoin="round">Under</text>
<text x="585.25" y="1931.20" font-size="18.60" font-weight="bold" textLength="46.53" lengthAdjust="spacingAndGlyphs" stroke="#000" stroke-width="0.12" stroke-linejoin="round">Test</text>
<text x="342.77" y="1937.50" font-size="22.09" font-weight="bold" textLength="25.75" lengthAdjust="spacingAndGlyphs" stroke="#000" stroke-width="0.12" stroke-linejoin="round">(+)</text>
<text x="342.29" y="2010.50" font-size="20.35" font-weight="bold" textLength="27.33" lengthAdjust="spacingAndGlyphs" stroke="#000" stroke-width="0.12" stroke-linejoin="round">(–)</text>
<text x="403.30" y="1956.80" font-size="21.51" font-weight="bold" textLength="73.37" lengthAdjust="spacingAndGlyphs" stroke="#000" stroke-width="0.12" stroke-linejoin="round">50 Vdc</text>
<text x="404.45" y="1980.50" font-size="21.51" font-weight="bold" textLength="77.61" lengthAdjust="spacingAndGlyphs" stroke="#000" stroke-width="0.12" stroke-linejoin="round">Approx</text>
<text x="836.81" y="1914.00" font-size="19.62" font-weight="bold" textLength="38.88" lengthAdjust="spacingAndGlyphs" stroke="#000" stroke-width="0.12" stroke-linejoin="round">( – )</text>
<text x="843.13" y="2058.00" font-size="21.80" font-weight="bold" textLength="38.84" lengthAdjust="spacingAndGlyphs" stroke="#000" stroke-width="0.12" stroke-linejoin="round">( + )</text>
<text x="795.47" y="1957.60" font-size="18.90" font-weight="bold" textLength="61.01" lengthAdjust="spacingAndGlyphs" stroke="#000" stroke-width="0.12" stroke-linejoin="round">Pulse</text>
<text x="774.09" y="1981.00" font-size="18.90" font-weight="bold" textLength="106.05" lengthAdjust="spacingAndGlyphs" stroke="#000" stroke-width="0.12" stroke-linejoin="round">Generator</text>
<text x="779.20" y="2004.00" font-size="19.62" font-weight="bold" textLength="88.09" lengthAdjust="spacingAndGlyphs" stroke="#000" stroke-width="0.12" stroke-linejoin="round">( Note 2)</text>
<text x="566.92" y="2030.70" font-size="21.37" font-weight="bold" textLength="9.56" lengthAdjust="spacingAndGlyphs" stroke="#000" stroke-width="0.12" stroke-linejoin="round">1</text>
<text x="580.61" y="2028.80" font-size="19.77" font-weight="normal" textLength="22.69" lengthAdjust="spacingAndGlyphs" stroke="#000" stroke-width="0.35" stroke-linejoin="round">Ω</text>
<circle cx="564.4" cy="2020.5" r="0.9" fill="#000" stroke="none"/>
<circle cx="564.4" cy="2060.4" r="0.9" fill="#000" stroke="none"/>
<text x="569.22" y="2064.00" font-size="20.06" font-weight="bold" textLength="23.55" lengthAdjust="spacingAndGlyphs" stroke="#000" stroke-width="0.12" stroke-linejoin="round">NI</text>
<text x="646.30" y="2051.50" font-size="20.20" font-weight="bold" textLength="136.75" lengthAdjust="spacingAndGlyphs" stroke="#000" stroke-width="0.12" stroke-linejoin="round">Oscilloscope</text>
<text x="656.49" y="2074.50" font-size="20.35" font-weight="bold" textLength="82.92" lengthAdjust="spacingAndGlyphs" stroke="#000" stroke-width="0.12" stroke-linejoin="round">(Note 1)</text>
<text x="338.36" y="2151.40" font-size="18.75" font-weight="bold" textLength="71.76" lengthAdjust="spacingAndGlyphs" stroke="#000" stroke-width="0.12" stroke-linejoin="round">Notes:</text>
<text x="338.51" y="2173.50" font-size="19.33" font-weight="bold" textLength="593.00" lengthAdjust="spacingAndGlyphs" stroke="#000" stroke-width="0.12" stroke-linejoin="round">1. Rise Time = 7 ns max. Input Impedance =1 M Ω , 22 pF</text>
<text x="339.14" y="2195.30" font-size="19.33" font-weight="bold" textLength="521.66" lengthAdjust="spacingAndGlyphs" stroke="#000" stroke-width="0.12" stroke-linejoin="round">2. Rise Time = 10 ns max. Input Impedance = 50 Ω</text>
<text x="456.95" y="2269.50" font-size="31.98" font-weight="normal" textLength="1000.27" lengthAdjust="spacingAndGlyphs" stroke="#000" stroke-width="0.35" stroke-linejoin="round">Fig-6 Reverse Recovery Time Characteristic and Test Circuit Diagram</text>
</svg>
</body></html>
